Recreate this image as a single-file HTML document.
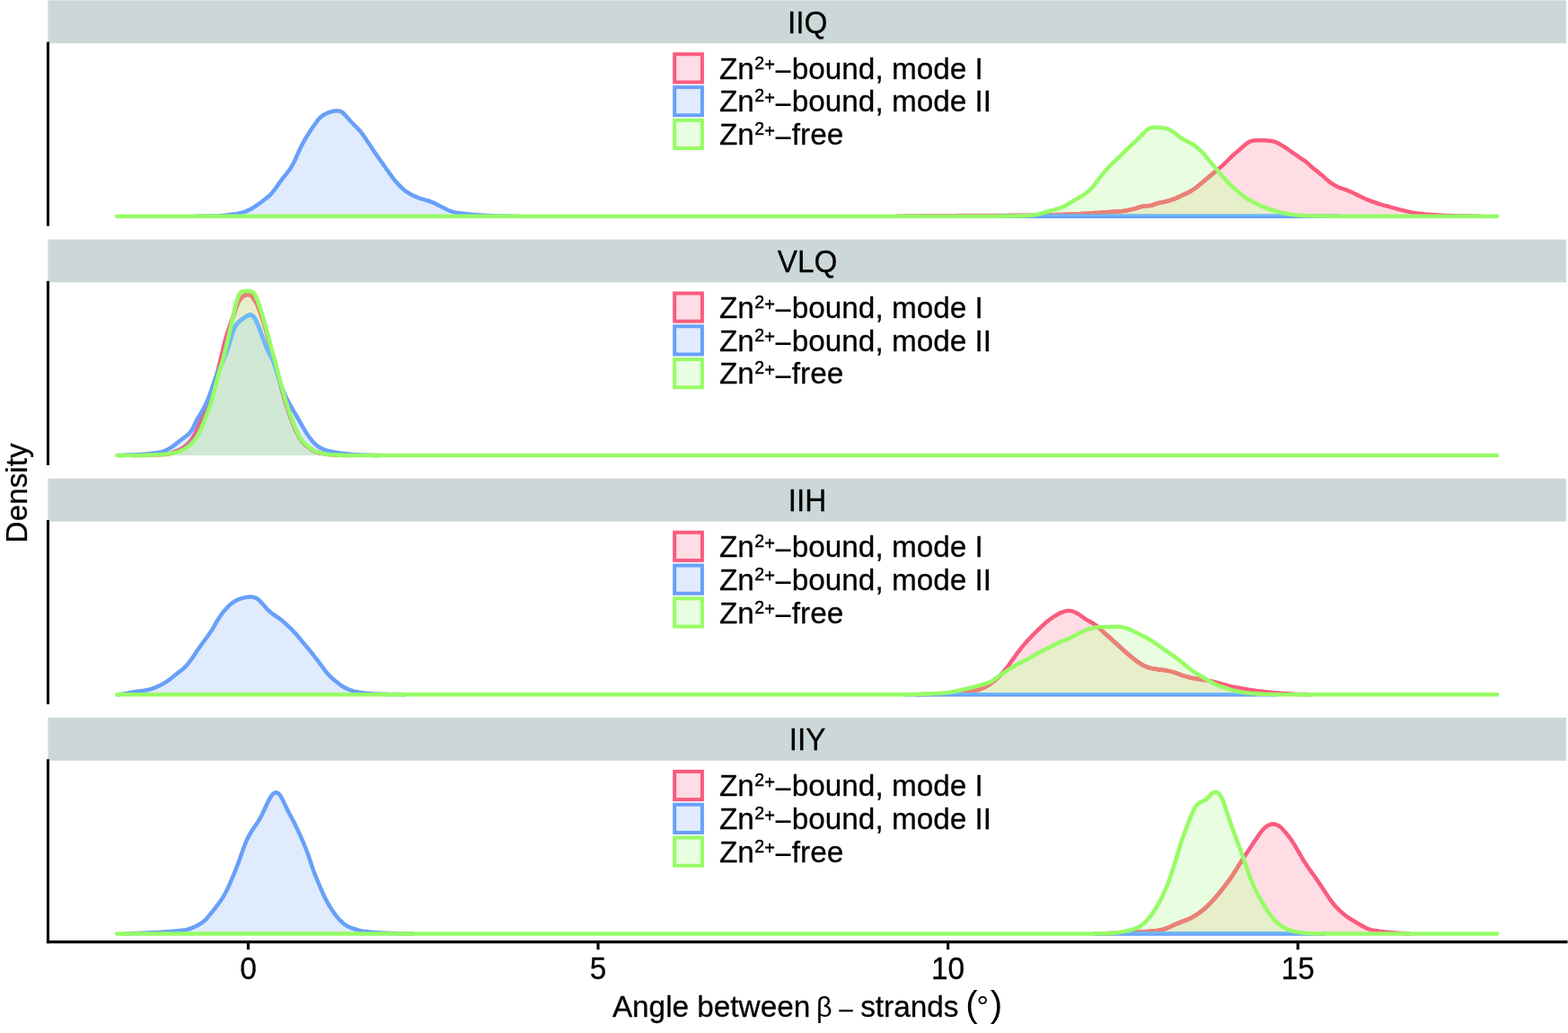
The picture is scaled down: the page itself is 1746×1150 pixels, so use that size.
<!DOCTYPE html>
<html lang="en">
<head>
<meta charset="utf-8">
<title>Angle between β-strands density</title>
<style>
html,body{margin:0;padding:0;background:#fff;}
body{width:1746px;height:1150px;overflow:hidden;}
svg{display:block;}
text{font-family:"Liberation Sans", sans-serif;fill:#000;font-size:33.3px;stroke:#000;stroke-width:0.3px;stroke-linejoin:round;}
.thin{stroke-width:0;}
.l{fill:none;stroke-width:4.5;stroke-linejoin:round;stroke-linecap:butt;}
.lg{fill:none;stroke-width:4.5;stroke-linejoin:round;stroke-linecap:round;}
.k{stroke-width:4.0;stroke-linejoin:miter;}
.ax{stroke:#000;stroke-width:3.1;stroke-linecap:square;fill:none;}
.tk{stroke:#000;stroke-width:3.1;stroke-linecap:butt;}
</style>
</head>
<body>
<svg width="1746" height="1150" viewBox="0 0 1746 1150">
<rect x="0" y="0" width="1746" height="1150" fill="#ffffff"/>

<g id="panel-IIQ">
<rect x="53.4" y="0.4" width="1690.6" height="47.8" fill="#CCD8D8"/>
<text transform="translate(899.1,36.7) scale(1,1.035)" text-anchor="middle">IIQ</text>
<defs>
<path id="f0r" d="M1000.2,240.8 L1000.2,240.8 1001.7,240.7 1003.2,240.7 1004.7,240.7 1006.2,240.6 1007.7,240.6 1009.2,240.6 1010.7,240.5 1012.2,240.5 1013.7,240.5 1015.2,240.5 1016.7,240.4 1018.2,240.4 1019.7,240.4 1021.2,240.4 1022.7,240.4 1024.2,240.4 1025.7,240.3 1027.2,240.3 1028.7,240.3 1030.2,240.3 1031.7,240.3 1033.2,240.3 1034.7,240.3 1036.2,240.3 1037.7,240.3 1039.2,240.3 1040.7,240.3 1042.2,240.3 1043.7,240.2 1045.2,240.2 1046.7,240.2 1048.2,240.2 1049.7,240.2 1051.2,240.2 1052.7,240.2 1054.2,240.2 1055.7,240.2 1057.2,240.2 1058.7,240.2 1060.2,240.2 1061.7,240.2 1063.2,240.2 1064.7,240.2 1066.2,240.2 1067.7,240.1 1069.2,240.1 1070.7,240.1 1072.2,240.1 1073.7,240.1 1075.2,240.1 1076.7,240.1 1078.2,240.1 1079.7,240.1 1081.2,240.1 1082.7,240.1 1084.2,240.1 1085.7,240.1 1087.2,240.1 1088.7,240 1090.2,240 1091.7,240 1093.2,240 1094.7,240 1096.2,240 1097.7,240 1099.2,240 1100.7,240 1102.2,240 1103.7,240 1105.2,240 1106.7,239.9 1108.2,239.9 1109.7,239.9 1111.2,239.9 1112.7,239.9 1114.2,239.9 1115.7,239.9 1117.2,239.9 1118.7,239.9 1120.2,239.9 1121.7,239.9 1123.2,239.9 1124.7,239.8 1126.2,239.8 1127.7,239.8 1129.2,239.8 1130.7,239.8 1132.2,239.8 1133.7,239.8 1135.2,239.8 1136.7,239.7 1138.2,239.7 1139.7,239.7 1141.2,239.7 1142.7,239.7 1144.2,239.7 1145.7,239.7 1147.2,239.6 1148.7,239.6 1150.2,239.6 1151.7,239.6 1153.2,239.5 1154.7,239.5 1156.2,239.5 1157.7,239.5 1159.2,239.4 1160.7,239.4 1162.2,239.4 1163.7,239.4 1165.2,239.3 1166.7,239.3 1168.2,239.3 1169.7,239.2 1171.2,239.2 1172.7,239.2 1174.2,239.2 1175.7,239.1 1177.2,239.1 1178.7,239 1180.2,239 1181.7,239 1183.2,238.9 1184.7,238.9 1186.2,238.8 1187.7,238.8 1189.2,238.8 1190.7,238.7 1192.2,238.6 1193.7,238.6 1195.2,238.5 1196.7,238.5 1198.2,238.4 1199.7,238.3 1201.2,238.2 1202.7,238.1 1204.2,238.1 1205.7,238 1207.2,237.9 1208.7,237.8 1210.2,237.7 1211.7,237.6 1213.2,237.5 1214.7,237.4 1216.2,237.3 1217.7,237.2 1219.2,237.1 1220.7,237 1222.2,236.9 1223.7,236.8 1225.2,236.7 1226.7,236.6 1228.2,236.5 1229.7,236.4 1231.2,236.3 1232.7,236.2 1234.2,236.1 1235.7,236 1237.2,235.9 1238.7,235.8 1240.2,235.7 1241.7,235.7 1243.2,235.6 1244.7,235.5 1246.2,235.4 1247.7,235.2 1249.2,235.1 1250.7,234.9 1252.2,234.7 1253.7,234.5 1255.2,234.2 1256.7,233.9 1258.2,233.5 1259.7,233.2 1261.2,232.8 1262.7,232.5 1264.2,232.1 1265.7,231.7 1267.2,231.2 1268.7,230.7 1270.2,230.3 1271.7,229.9 1273.2,229.5 1274.7,229.3 1276.2,229.2 1277.7,229.2 1279.2,229.1 1280.7,229 1282.2,228.7 1283.7,228.1 1285.2,227.6 1286.7,227 1288.2,226.5 1289.7,226.1 1291.2,225.8 1292.7,225.5 1294.2,225.2 1295.7,224.9 1297.2,224.5 1298.7,224.1 1300.2,223.8 1301.7,223.3 1303.2,222.9 1304.7,222.4 1306.2,221.9 1307.7,221.4 1309.2,220.8 1310.7,220.1 1312.2,219.4 1313.7,218.7 1315.2,218 1316.7,217.3 1318.2,216.6 1319.7,215.9 1321.2,215.2 1322.7,214.5 1324.2,213.7 1325.7,212.9 1327.2,212 1328.7,211 1330.2,210 1331.7,208.9 1333.2,207.7 1334.7,206.5 1336.2,205.3 1337.7,204.1 1339.2,202.9 1340.7,201.6 1342.2,200.3 1343.7,199 1345.2,197.7 1346.7,196.4 1348.2,195.2 1349.7,193.9 1351.2,192.7 1352.7,191.4 1354.2,190.2 1355.7,188.9 1357.2,187.6 1358.7,186.4 1360.2,185.1 1361.7,183.8 1363.2,182.4 1364.7,181 1366.2,179.5 1367.7,178 1369.2,176.5 1370.7,175 1372.2,173.6 1373.7,172.2 1375.2,170.9 1376.7,169.6 1378.2,168.3 1379.7,167.1 1381.2,165.8 1382.7,164.4 1384.2,163.1 1385.7,161.8 1387.2,160.5 1388.7,159.4 1390.2,158.4 1391.7,157.7 1393.2,157.1 1394.7,156.8 1396.2,156.5 1397.7,156.3 1399.2,156.2 1400.7,156.2 1402.2,156.2 1403.7,156.2 1405.2,156.2 1406.7,156.3 1408.2,156.3 1409.7,156.4 1411.2,156.5 1412.7,156.7 1414.2,156.8 1415.7,157 1417.2,157.3 1418.7,157.6 1420.2,158.1 1421.7,158.7 1423.2,159.4 1424.7,160.2 1426.2,161.1 1427.7,162 1429.2,162.9 1430.7,163.9 1432.2,164.9 1433.7,165.9 1435.2,167 1436.7,168 1438.2,169.1 1439.7,170.2 1441.2,171.2 1442.7,172.2 1444.2,173.2 1445.7,174.2 1447.2,175.3 1448.7,176.3 1450.2,177.3 1451.7,178.3 1453.2,179.4 1454.7,180.5 1456.2,181.8 1457.7,183.2 1459.2,184.6 1460.7,186 1462.2,187.3 1463.7,188.5 1465.2,189.6 1466.7,190.8 1468.2,192 1469.7,193.2 1471.2,194.4 1472.7,195.6 1474.2,196.9 1475.7,198.3 1477.2,199.7 1478.7,201 1480.2,202.2 1481.7,203.4 1483.2,204.4 1484.7,205.4 1486.2,206.3 1487.7,207.1 1489.2,207.9 1490.7,208.5 1492.2,209.1 1493.7,209.7 1495.2,210.2 1496.7,210.7 1498.2,211.2 1499.7,211.7 1501.2,212.3 1502.7,212.9 1504.2,213.5 1505.7,214.2 1507.2,215 1508.7,215.7 1510.2,216.4 1511.7,217.2 1513.2,217.9 1514.7,218.7 1516.2,219.4 1517.7,220.1 1519.2,220.8 1520.7,221.5 1522.2,222.1 1523.7,222.7 1525.2,223.3 1526.7,223.8 1528.2,224.4 1529.7,224.9 1531.2,225.5 1532.7,226 1534.2,226.5 1535.7,227 1537.2,227.4 1538.7,227.8 1540.2,228.3 1541.7,228.7 1543.2,229.1 1544.7,229.5 1546.2,229.9 1547.7,230.4 1549.2,230.8 1550.7,231.2 1552.2,231.6 1553.7,232 1555.2,232.4 1556.7,232.8 1558.2,233.2 1559.7,233.6 1561.2,233.9 1562.7,234.3 1564.2,234.7 1565.7,235 1567.2,235.4 1568.7,235.7 1570.2,236.1 1571.7,236.4 1573.2,236.7 1574.7,237 1576.2,237.2 1577.7,237.4 1579.2,237.6 1580.7,237.8 1582.2,238 1583.7,238.1 1585.2,238.3 1586.7,238.4 1588.2,238.6 1589.7,238.7 1591.2,238.8 1592.7,238.9 1594.2,239 1595.7,239.1 1597.2,239.2 1598.7,239.3 1600.2,239.4 1601.7,239.5 1603.2,239.6 1604.7,239.7 1606.2,239.7 1607.7,239.8 1609.2,239.9 1610.7,240 1612.2,240 1613.7,240.1 1615.2,240.1 1616.7,240.2 1618.2,240.2 1619.7,240.3 1621.2,240.3 1622.7,240.4 1624.2,240.4 1625.7,240.4 1627.2,240.5 1628.7,240.5 1630.2,240.5 1631.7,240.5 1633.2,240.6 1634.7,240.6 1636.2,240.6 1637.7,240.6 1639.2,240.6 1640.7,240.7 1642.2,240.7 1643.7,240.7 1645.2,240.7 1646.7,240.8 L1646.7,240.8Z"/>
<clipPath id="c0r"><use href="#f0r"/></clipPath>
<path id="f0b" d="M220.2,240.8 L220.2,240.8 221.7,240.7 223.2,240.7 224.7,240.7 226.2,240.7 227.7,240.7 229.2,240.6 230.7,240.6 232.2,240.6 233.7,240.6 235.2,240.6 236.7,240.5 238.2,240.5 239.7,240.5 241.2,240.4 242.7,240.4 244.2,240.3 245.7,240.2 247.2,240 248.7,239.9 250.2,239.7 251.7,239.6 253.2,239.4 254.7,239.2 256.2,239 257.7,238.8 259.2,238.6 260.7,238.4 262.2,238.2 263.7,237.9 265.2,237.6 266.7,237.3 268.2,237 269.7,236.6 271.2,236.2 272.7,235.7 274.2,235.1 275.7,234.4 277.2,233.7 278.7,233 280.2,232.2 281.7,231.3 283.2,230.4 284.7,229.4 286.2,228.4 287.7,227.4 289.2,226.3 290.7,225.2 292.2,224 293.7,222.8 295.2,221.7 296.7,220.5 298.2,219.3 299.7,218 301.2,216.6 302.7,215 304.2,213.1 305.7,211.2 307.2,209.1 308.7,207 310.2,204.9 311.7,202.8 313.2,200.7 314.7,198.7 316.2,196.8 317.7,195 319.2,193.1 320.7,191.3 322.2,189.2 323.7,186.9 325.2,184.4 326.7,181.7 328.2,178.7 329.7,175.5 331.2,172.1 332.7,168.8 334.2,165.5 335.7,162.5 337.2,159.5 338.7,156.8 340.2,154.2 341.7,151.8 343.2,149.4 344.7,147.1 346.2,144.8 347.7,142.5 349.2,140.3 350.7,138.2 352.2,136.1 353.7,134 355.2,132.2 356.7,130.7 358.2,129.5 359.7,128.4 361.2,127.5 362.7,126.7 364.2,126 365.7,125.4 367.2,124.9 368.7,124.4 370.2,124 371.7,123.7 373.2,123.4 374.7,123.3 376.2,123.4 377.7,123.6 379.2,124 380.7,124.8 382.2,125.9 383.7,127.4 385.2,129.1 386.7,130.8 388.2,132.5 389.7,134.2 391.2,135.8 392.7,137.4 394.2,139 395.7,140.4 397.2,141.9 398.7,143.4 400.2,145 401.7,146.8 403.2,148.7 404.7,150.8 406.2,153 407.7,155.3 409.2,157.5 410.7,159.7 412.2,162 413.7,164.3 415.2,166.5 416.7,168.7 418.2,170.9 419.7,173 421.2,175.1 422.7,177.2 424.2,179.4 425.7,181.5 427.2,183.6 428.7,185.7 430.2,187.9 431.7,190 433.2,192.1 434.7,194.3 436.2,196.4 437.7,198.4 439.2,200.3 440.7,202.1 442.2,203.8 443.7,205.4 445.2,206.9 446.7,208.4 448.2,209.8 449.7,211.1 451.2,212.4 452.7,213.5 454.2,214.4 455.7,215.3 457.2,216.2 458.7,217 460.2,217.7 461.7,218.4 463.2,219.1 464.7,219.7 466.2,220.3 467.7,220.8 469.2,221.3 470.7,221.7 472.2,222.1 473.7,222.6 475.2,223 476.7,223.5 478.2,224 479.7,224.5 481.2,225.1 482.7,225.7 484.2,226.4 485.7,227.1 487.2,227.9 488.7,228.7 490.2,229.5 491.7,230.2 493.2,231 494.7,231.8 496.2,232.6 497.7,233.3 499.2,234 500.7,234.6 502.2,235.1 503.7,235.6 505.2,236.1 506.7,236.4 508.2,236.8 509.7,237 511.2,237.2 512.7,237.4 514.2,237.6 515.7,237.8 517.2,238 518.7,238.1 520.2,238.2 521.7,238.4 523.2,238.5 524.7,238.7 526.2,238.8 527.7,238.9 529.2,239 530.7,239.2 532.2,239.3 533.7,239.4 535.2,239.5 536.7,239.6 538.2,239.7 539.7,239.8 541.2,239.9 542.7,240 544.2,240 545.7,240.1 547.2,240.2 548.7,240.2 550.2,240.3 551.7,240.4 553.2,240.4 554.7,240.5 556.2,240.5 557.7,240.5 559.2,240.6 560.7,240.6 562.2,240.6 563.7,240.6 565.2,240.7 566.7,240.7 568.2,240.7 569.7,240.7 571.2,240.7 572.7,240.7 574.2,240.8 L574.2,240.8Z"/>
<clipPath id="c0b"><use href="#f0b"/></clipPath>
<path id="f0g" d="M1112.7,240.8 L1112.7,240.8 1114.2,240.7 1115.7,240.7 1117.2,240.7 1118.7,240.7 1120.2,240.6 1121.7,240.6 1123.2,240.6 1124.7,240.6 1126.2,240.5 1127.7,240.5 1129.2,240.5 1130.7,240.4 1132.2,240.4 1133.7,240.4 1135.2,240.3 1136.7,240.3 1138.2,240.3 1139.7,240.2 1141.2,240.2 1142.7,240.1 1144.2,240 1145.7,239.9 1147.2,239.8 1148.7,239.7 1150.2,239.5 1151.7,239.4 1153.2,239.1 1154.7,238.8 1156.2,238.5 1157.7,238 1159.2,237.6 1160.7,237.2 1162.2,236.7 1163.7,236.3 1165.2,235.9 1166.7,235.5 1168.2,235 1169.7,234.6 1171.2,234.2 1172.7,233.8 1174.2,233.4 1175.7,233 1177.2,232.6 1178.7,232.2 1180.2,231.7 1181.7,231.1 1183.2,230.5 1184.7,229.8 1186.2,229 1187.7,228.1 1189.2,227.3 1190.7,226.4 1192.2,225.5 1193.7,224.6 1195.2,223.6 1196.7,222.7 1198.2,221.8 1199.7,221 1201.2,220.1 1202.7,219.3 1204.2,218.5 1205.7,217.5 1207.2,216.6 1208.7,215.5 1210.2,214.3 1211.7,213.1 1213.2,211.7 1214.7,210.3 1216.2,208.6 1217.7,206.8 1219.2,204.9 1220.7,203 1222.2,201 1223.7,199.1 1225.2,197.2 1226.7,195.3 1228.2,193.4 1229.7,191.6 1231.2,189.8 1232.7,188.1 1234.2,186.5 1235.7,184.9 1237.2,183.3 1238.7,181.9 1240.2,180.4 1241.7,179 1243.2,177.6 1244.7,176.2 1246.2,174.8 1247.7,173.4 1249.2,171.9 1250.7,170.4 1252.2,168.9 1253.7,167.4 1255.2,165.9 1256.7,164.5 1258.2,163.1 1259.7,161.7 1261.2,160.3 1262.7,159 1264.2,157.5 1265.7,156.1 1267.2,154.6 1268.7,153.1 1270.2,151.6 1271.7,150.1 1273.2,148.5 1274.7,147 1276.2,145.5 1277.7,144.3 1279.2,143.3 1280.7,142.7 1282.2,142.2 1283.7,142 1285.2,141.8 1286.7,141.8 1288.2,141.8 1289.7,141.8 1291.2,141.9 1292.7,142.1 1294.2,142.2 1295.7,142.5 1297.2,142.7 1298.7,143.1 1300.2,143.6 1301.7,144.2 1303.2,144.9 1304.7,145.8 1306.2,146.8 1307.7,147.9 1309.2,149.1 1310.7,150.3 1312.2,151.5 1313.7,152.6 1315.2,153.6 1316.7,154.6 1318.2,155.5 1319.7,156.3 1321.2,157.1 1322.7,157.9 1324.2,158.6 1325.7,159.3 1327.2,160.1 1328.7,161 1330.2,162.1 1331.7,163.2 1333.2,164.5 1334.7,165.8 1336.2,167.2 1337.7,168.7 1339.2,170.2 1340.7,171.8 1342.2,173.4 1343.7,175.2 1345.2,177 1346.7,178.8 1348.2,180.7 1349.7,182.5 1351.2,184.3 1352.7,186.1 1354.2,187.9 1355.7,189.7 1357.2,191.5 1358.7,193.3 1360.2,195.1 1361.7,196.8 1363.2,198.5 1364.7,200.1 1366.2,201.8 1367.7,203.3 1369.2,204.8 1370.7,206.3 1372.2,207.7 1373.7,209 1375.2,210.4 1376.7,211.7 1378.2,213 1379.7,214.3 1381.2,215.5 1382.7,216.7 1384.2,217.9 1385.7,219 1387.2,220.1 1388.7,221.1 1390.2,222.1 1391.7,223 1393.2,223.8 1394.7,224.6 1396.2,225.4 1397.7,226.1 1399.2,226.8 1400.7,227.5 1402.2,228.2 1403.7,228.9 1405.2,229.6 1406.7,230.2 1408.2,230.9 1409.7,231.5 1411.2,232 1412.7,232.5 1414.2,233 1415.7,233.5 1417.2,234 1418.7,234.4 1420.2,234.8 1421.7,235.3 1423.2,235.7 1424.7,236.1 1426.2,236.5 1427.7,236.8 1429.2,237.2 1430.7,237.5 1432.2,237.8 1433.7,238.1 1435.2,238.3 1436.7,238.5 1438.2,238.7 1439.7,238.9 1441.2,239.1 1442.7,239.3 1444.2,239.4 1445.7,239.6 1447.2,239.7 1448.7,239.8 1450.2,239.9 1451.7,240 1453.2,240.1 1454.7,240.2 1456.2,240.2 1457.7,240.3 1459.2,240.3 1460.7,240.4 1462.2,240.4 1463.7,240.5 1465.2,240.5 1466.7,240.5 1468.2,240.5 1469.7,240.6 1471.2,240.6 1472.7,240.6 1474.2,240.6 1475.7,240.6 1477.2,240.7 1478.7,240.7 1480.2,240.7 1481.7,240.7 1483.2,240.7 1484.7,240.7 1486.2,240.7 1487.7,240.7 1489.2,240.8 L1489.2,240.8Z"/>
<clipPath id="c0g"><use href="#f0g"/></clipPath>
<path id="l0r" d="M997.2,240.8 L1000.2,240.8 L1001.7,240.7 L1003.2,240.7 L1004.7,240.7 L1006.2,240.6 L1007.7,240.6 L1009.2,240.6 L1010.7,240.5 L1012.2,240.5 L1013.7,240.5 L1015.2,240.5 L1016.7,240.4 L1018.2,240.4 L1019.7,240.4 L1021.2,240.4 L1022.7,240.4 L1024.2,240.4 L1025.7,240.3 L1027.2,240.3 L1028.7,240.3 L1030.2,240.3 L1031.7,240.3 L1033.2,240.3 L1034.7,240.3 L1036.2,240.3 L1037.7,240.3 L1039.2,240.3 L1040.7,240.3 L1042.2,240.3 L1043.7,240.2 L1045.2,240.2 L1046.7,240.2 L1048.2,240.2 L1049.7,240.2 L1051.2,240.2 L1052.7,240.2 L1054.2,240.2 L1055.7,240.2 L1057.2,240.2 L1058.7,240.2 L1060.2,240.2 L1061.7,240.2 L1063.2,240.2 L1064.7,240.2 L1066.2,240.2 L1067.7,240.1 L1069.2,240.1 L1070.7,240.1 L1072.2,240.1 L1073.7,240.1 L1075.2,240.1 L1076.7,240.1 L1078.2,240.1 L1079.7,240.1 L1081.2,240.1 L1082.7,240.1 L1084.2,240.1 L1085.7,240.1 L1087.2,240.1 L1088.7,240 L1090.2,240 L1091.7,240 L1093.2,240 L1094.7,240 L1096.2,240 L1097.7,240 L1099.2,240 L1100.7,240 L1102.2,240 L1103.7,240 L1105.2,240 L1106.7,239.9 L1108.2,239.9 L1109.7,239.9 L1111.2,239.9 L1112.7,239.9 L1114.2,239.9 L1115.7,239.9 L1117.2,239.9 L1118.7,239.9 L1120.2,239.9 L1121.7,239.9 L1123.2,239.9 L1124.7,239.8 L1126.2,239.8 L1127.7,239.8 L1129.2,239.8 L1130.7,239.8 L1132.2,239.8 L1133.7,239.8 L1135.2,239.8 L1136.7,239.7 L1138.2,239.7 L1139.7,239.7 L1141.2,239.7 L1142.7,239.7 L1144.2,239.7 L1145.7,239.7 L1147.2,239.6 L1148.7,239.6 L1150.2,239.6 L1151.7,239.6 L1153.2,239.5 L1154.7,239.5 L1156.2,239.5 L1157.7,239.5 L1159.2,239.4 L1160.7,239.4 L1162.2,239.4 L1163.7,239.4 L1165.2,239.3 L1166.7,239.3 L1168.2,239.3 L1169.7,239.2 L1171.2,239.2 L1172.7,239.2 L1174.2,239.2 L1175.7,239.1 L1177.2,239.1 L1178.7,239 L1180.2,239 L1181.7,239 L1183.2,238.9 L1184.7,238.9 L1186.2,238.8 L1187.7,238.8 L1189.2,238.8 L1190.7,238.7 L1192.2,238.6 L1193.7,238.6 L1195.2,238.5 L1196.7,238.5 L1198.2,238.4 L1199.7,238.3 L1201.2,238.2 L1202.7,238.1 L1204.2,238.1 L1205.7,238 L1207.2,237.9 L1208.7,237.8 L1210.2,237.7 L1211.7,237.6 L1213.2,237.5 L1214.7,237.4 L1216.2,237.3 L1217.7,237.2 L1219.2,237.1 L1220.7,237 L1222.2,236.9 L1223.7,236.8 L1225.2,236.7 L1226.7,236.6 L1228.2,236.5 L1229.7,236.4 L1231.2,236.3 L1232.7,236.2 L1234.2,236.1 L1235.7,236 L1237.2,235.9 L1238.7,235.8 L1240.2,235.7 L1241.7,235.7 L1243.2,235.6 L1244.7,235.5 L1246.2,235.4 L1247.7,235.2 L1249.2,235.1 L1250.7,234.9 L1252.2,234.7 L1253.7,234.5 L1255.2,234.2 L1256.7,233.9 L1258.2,233.5 L1259.7,233.2 L1261.2,232.8 L1262.7,232.5 L1264.2,232.1 L1265.7,231.7 L1267.2,231.2 L1268.7,230.7 L1270.2,230.3 L1271.7,229.9 L1273.2,229.5 L1274.7,229.3 L1276.2,229.2 L1277.7,229.2 L1279.2,229.1 L1280.7,229 L1282.2,228.7 L1283.7,228.1 L1285.2,227.6 L1286.7,227 L1288.2,226.5 L1289.7,226.1 L1291.2,225.8 L1292.7,225.5 L1294.2,225.2 L1295.7,224.9 L1297.2,224.5 L1298.7,224.1 L1300.2,223.8 L1301.7,223.3 L1303.2,222.9 L1304.7,222.4 L1306.2,221.9 L1307.7,221.4 L1309.2,220.8 L1310.7,220.1 L1312.2,219.4 L1313.7,218.7 L1315.2,218 L1316.7,217.3 L1318.2,216.6 L1319.7,215.9 L1321.2,215.2 L1322.7,214.5 L1324.2,213.7 L1325.7,212.9 L1327.2,212 L1328.7,211 L1330.2,210 L1331.7,208.9 L1333.2,207.7 L1334.7,206.5 L1336.2,205.3 L1337.7,204.1 L1339.2,202.9 L1340.7,201.6 L1342.2,200.3 L1343.7,199 L1345.2,197.7 L1346.7,196.4 L1348.2,195.2 L1349.7,193.9 L1351.2,192.7 L1352.7,191.4 L1354.2,190.2 L1355.7,188.9 L1357.2,187.6 L1358.7,186.4 L1360.2,185.1 L1361.7,183.8 L1363.2,182.4 L1364.7,181 L1366.2,179.5 L1367.7,178 L1369.2,176.5 L1370.7,175 L1372.2,173.6 L1373.7,172.2 L1375.2,170.9 L1376.7,169.6 L1378.2,168.3 L1379.7,167.1 L1381.2,165.8 L1382.7,164.4 L1384.2,163.1 L1385.7,161.8 L1387.2,160.5 L1388.7,159.4 L1390.2,158.4 L1391.7,157.7 L1393.2,157.1 L1394.7,156.8 L1396.2,156.5 L1397.7,156.3 L1399.2,156.2 L1400.7,156.2 L1402.2,156.2 L1403.7,156.2 L1405.2,156.2 L1406.7,156.3 L1408.2,156.3 L1409.7,156.4 L1411.2,156.5 L1412.7,156.7 L1414.2,156.8 L1415.7,157 L1417.2,157.3 L1418.7,157.6 L1420.2,158.1 L1421.7,158.7 L1423.2,159.4 L1424.7,160.2 L1426.2,161.1 L1427.7,162 L1429.2,162.9 L1430.7,163.9 L1432.2,164.9 L1433.7,165.9 L1435.2,167 L1436.7,168 L1438.2,169.1 L1439.7,170.2 L1441.2,171.2 L1442.7,172.2 L1444.2,173.2 L1445.7,174.2 L1447.2,175.3 L1448.7,176.3 L1450.2,177.3 L1451.7,178.3 L1453.2,179.4 L1454.7,180.5 L1456.2,181.8 L1457.7,183.2 L1459.2,184.6 L1460.7,186 L1462.2,187.3 L1463.7,188.5 L1465.2,189.6 L1466.7,190.8 L1468.2,192 L1469.7,193.2 L1471.2,194.4 L1472.7,195.6 L1474.2,196.9 L1475.7,198.3 L1477.2,199.7 L1478.7,201 L1480.2,202.2 L1481.7,203.4 L1483.2,204.4 L1484.7,205.4 L1486.2,206.3 L1487.7,207.1 L1489.2,207.9 L1490.7,208.5 L1492.2,209.1 L1493.7,209.7 L1495.2,210.2 L1496.7,210.7 L1498.2,211.2 L1499.7,211.7 L1501.2,212.3 L1502.7,212.9 L1504.2,213.5 L1505.7,214.2 L1507.2,215 L1508.7,215.7 L1510.2,216.4 L1511.7,217.2 L1513.2,217.9 L1514.7,218.7 L1516.2,219.4 L1517.7,220.1 L1519.2,220.8 L1520.7,221.5 L1522.2,222.1 L1523.7,222.7 L1525.2,223.3 L1526.7,223.8 L1528.2,224.4 L1529.7,224.9 L1531.2,225.5 L1532.7,226 L1534.2,226.5 L1535.7,227 L1537.2,227.4 L1538.7,227.8 L1540.2,228.3 L1541.7,228.7 L1543.2,229.1 L1544.7,229.5 L1546.2,229.9 L1547.7,230.4 L1549.2,230.8 L1550.7,231.2 L1552.2,231.6 L1553.7,232 L1555.2,232.4 L1556.7,232.8 L1558.2,233.2 L1559.7,233.6 L1561.2,233.9 L1562.7,234.3 L1564.2,234.7 L1565.7,235 L1567.2,235.4 L1568.7,235.7 L1570.2,236.1 L1571.7,236.4 L1573.2,236.7 L1574.7,237 L1576.2,237.2 L1577.7,237.4 L1579.2,237.6 L1580.7,237.8 L1582.2,238 L1583.7,238.1 L1585.2,238.3 L1586.7,238.4 L1588.2,238.6 L1589.7,238.7 L1591.2,238.8 L1592.7,238.9 L1594.2,239 L1595.7,239.1 L1597.2,239.2 L1598.7,239.3 L1600.2,239.4 L1601.7,239.5 L1603.2,239.6 L1604.7,239.7 L1606.2,239.7 L1607.7,239.8 L1609.2,239.9 L1610.7,240 L1612.2,240 L1613.7,240.1 L1615.2,240.1 L1616.7,240.2 L1618.2,240.2 L1619.7,240.3 L1621.2,240.3 L1622.7,240.4 L1624.2,240.4 L1625.7,240.4 L1627.2,240.5 L1628.7,240.5 L1630.2,240.5 L1631.7,240.5 L1633.2,240.6 L1634.7,240.6 L1636.2,240.6 L1637.7,240.6 L1639.2,240.6 L1640.7,240.7 L1642.2,240.7 L1643.7,240.7 L1645.2,240.7 L1646.7,240.8 L1649.7,240.8"/>
<path id="l0b" d="M217.2,240.8 L220.2,240.8 L221.7,240.7 L223.2,240.7 L224.7,240.7 L226.2,240.7 L227.7,240.7 L229.2,240.6 L230.7,240.6 L232.2,240.6 L233.7,240.6 L235.2,240.6 L236.7,240.5 L238.2,240.5 L239.7,240.5 L241.2,240.4 L242.7,240.4 L244.2,240.3 L245.7,240.2 L247.2,240 L248.7,239.9 L250.2,239.7 L251.7,239.6 L253.2,239.4 L254.7,239.2 L256.2,239 L257.7,238.8 L259.2,238.6 L260.7,238.4 L262.2,238.2 L263.7,237.9 L265.2,237.6 L266.7,237.3 L268.2,237 L269.7,236.6 L271.2,236.2 L272.7,235.7 L274.2,235.1 L275.7,234.4 L277.2,233.7 L278.7,233 L280.2,232.2 L281.7,231.3 L283.2,230.4 L284.7,229.4 L286.2,228.4 L287.7,227.4 L289.2,226.3 L290.7,225.2 L292.2,224 L293.7,222.8 L295.2,221.7 L296.7,220.5 L298.2,219.3 L299.7,218 L301.2,216.6 L302.7,215 L304.2,213.1 L305.7,211.2 L307.2,209.1 L308.7,207 L310.2,204.9 L311.7,202.8 L313.2,200.7 L314.7,198.7 L316.2,196.8 L317.7,195 L319.2,193.1 L320.7,191.3 L322.2,189.2 L323.7,186.9 L325.2,184.4 L326.7,181.7 L328.2,178.7 L329.7,175.5 L331.2,172.1 L332.7,168.8 L334.2,165.5 L335.7,162.5 L337.2,159.5 L338.7,156.8 L340.2,154.2 L341.7,151.8 L343.2,149.4 L344.7,147.1 L346.2,144.8 L347.7,142.5 L349.2,140.3 L350.7,138.2 L352.2,136.1 L353.7,134 L355.2,132.2 L356.7,130.7 L358.2,129.5 L359.7,128.4 L361.2,127.5 L362.7,126.7 L364.2,126 L365.7,125.4 L367.2,124.9 L368.7,124.4 L370.2,124 L371.7,123.7 L373.2,123.4 L374.7,123.3 L376.2,123.4 L377.7,123.6 L379.2,124 L380.7,124.8 L382.2,125.9 L383.7,127.4 L385.2,129.1 L386.7,130.8 L388.2,132.5 L389.7,134.2 L391.2,135.8 L392.7,137.4 L394.2,139 L395.7,140.4 L397.2,141.9 L398.7,143.4 L400.2,145 L401.7,146.8 L403.2,148.7 L404.7,150.8 L406.2,153 L407.7,155.3 L409.2,157.5 L410.7,159.7 L412.2,162 L413.7,164.3 L415.2,166.5 L416.7,168.7 L418.2,170.9 L419.7,173 L421.2,175.1 L422.7,177.2 L424.2,179.4 L425.7,181.5 L427.2,183.6 L428.7,185.7 L430.2,187.9 L431.7,190 L433.2,192.1 L434.7,194.3 L436.2,196.4 L437.7,198.4 L439.2,200.3 L440.7,202.1 L442.2,203.8 L443.7,205.4 L445.2,206.9 L446.7,208.4 L448.2,209.8 L449.7,211.1 L451.2,212.4 L452.7,213.5 L454.2,214.4 L455.7,215.3 L457.2,216.2 L458.7,217 L460.2,217.7 L461.7,218.4 L463.2,219.1 L464.7,219.7 L466.2,220.3 L467.7,220.8 L469.2,221.3 L470.7,221.7 L472.2,222.1 L473.7,222.6 L475.2,223 L476.7,223.5 L478.2,224 L479.7,224.5 L481.2,225.1 L482.7,225.7 L484.2,226.4 L485.7,227.1 L487.2,227.9 L488.7,228.7 L490.2,229.5 L491.7,230.2 L493.2,231 L494.7,231.8 L496.2,232.6 L497.7,233.3 L499.2,234 L500.7,234.6 L502.2,235.1 L503.7,235.6 L505.2,236.1 L506.7,236.4 L508.2,236.8 L509.7,237 L511.2,237.2 L512.7,237.4 L514.2,237.6 L515.7,237.8 L517.2,238 L518.7,238.1 L520.2,238.2 L521.7,238.4 L523.2,238.5 L524.7,238.7 L526.2,238.8 L527.7,238.9 L529.2,239 L530.7,239.2 L532.2,239.3 L533.7,239.4 L535.2,239.5 L536.7,239.6 L538.2,239.7 L539.7,239.8 L541.2,239.9 L542.7,240 L544.2,240 L545.7,240.1 L547.2,240.2 L548.7,240.2 L550.2,240.3 L551.7,240.4 L553.2,240.4 L554.7,240.5 L556.2,240.5 L557.7,240.5 L559.2,240.6 L560.7,240.6 L562.2,240.6 L563.7,240.6 L565.2,240.7 L566.7,240.7 L568.2,240.7 L569.7,240.7 L571.2,240.7 L572.7,240.7 L574.2,240.8 L577.2,240.8 M1109.7,240.8 L1492.2,240.8"/>
<path id="l0g" d="M130.2,240.8 L1112.7,240.8 L1114.2,240.7 L1115.7,240.7 L1117.2,240.7 L1118.7,240.7 L1120.2,240.6 L1121.7,240.6 L1123.2,240.6 L1124.7,240.6 L1126.2,240.5 L1127.7,240.5 L1129.2,240.5 L1130.7,240.4 L1132.2,240.4 L1133.7,240.4 L1135.2,240.3 L1136.7,240.3 L1138.2,240.3 L1139.7,240.2 L1141.2,240.2 L1142.7,240.1 L1144.2,240 L1145.7,239.9 L1147.2,239.8 L1148.7,239.7 L1150.2,239.5 L1151.7,239.4 L1153.2,239.1 L1154.7,238.8 L1156.2,238.5 L1157.7,238 L1159.2,237.6 L1160.7,237.2 L1162.2,236.7 L1163.7,236.3 L1165.2,235.9 L1166.7,235.5 L1168.2,235 L1169.7,234.6 L1171.2,234.2 L1172.7,233.8 L1174.2,233.4 L1175.7,233 L1177.2,232.6 L1178.7,232.2 L1180.2,231.7 L1181.7,231.1 L1183.2,230.5 L1184.7,229.8 L1186.2,229 L1187.7,228.1 L1189.2,227.3 L1190.7,226.4 L1192.2,225.5 L1193.7,224.6 L1195.2,223.6 L1196.7,222.7 L1198.2,221.8 L1199.7,221 L1201.2,220.1 L1202.7,219.3 L1204.2,218.5 L1205.7,217.5 L1207.2,216.6 L1208.7,215.5 L1210.2,214.3 L1211.7,213.1 L1213.2,211.7 L1214.7,210.3 L1216.2,208.6 L1217.7,206.8 L1219.2,204.9 L1220.7,203 L1222.2,201 L1223.7,199.1 L1225.2,197.2 L1226.7,195.3 L1228.2,193.4 L1229.7,191.6 L1231.2,189.8 L1232.7,188.1 L1234.2,186.5 L1235.7,184.9 L1237.2,183.3 L1238.7,181.9 L1240.2,180.4 L1241.7,179 L1243.2,177.6 L1244.7,176.2 L1246.2,174.8 L1247.7,173.4 L1249.2,171.9 L1250.7,170.4 L1252.2,168.9 L1253.7,167.4 L1255.2,165.9 L1256.7,164.5 L1258.2,163.1 L1259.7,161.7 L1261.2,160.3 L1262.7,159 L1264.2,157.5 L1265.7,156.1 L1267.2,154.6 L1268.7,153.1 L1270.2,151.6 L1271.7,150.1 L1273.2,148.5 L1274.7,147 L1276.2,145.5 L1277.7,144.3 L1279.2,143.3 L1280.7,142.7 L1282.2,142.2 L1283.7,142 L1285.2,141.8 L1286.7,141.8 L1288.2,141.8 L1289.7,141.8 L1291.2,141.9 L1292.7,142.1 L1294.2,142.2 L1295.7,142.5 L1297.2,142.7 L1298.7,143.1 L1300.2,143.6 L1301.7,144.2 L1303.2,144.9 L1304.7,145.8 L1306.2,146.8 L1307.7,147.9 L1309.2,149.1 L1310.7,150.3 L1312.2,151.5 L1313.7,152.6 L1315.2,153.6 L1316.7,154.6 L1318.2,155.5 L1319.7,156.3 L1321.2,157.1 L1322.7,157.9 L1324.2,158.6 L1325.7,159.3 L1327.2,160.1 L1328.7,161 L1330.2,162.1 L1331.7,163.2 L1333.2,164.5 L1334.7,165.8 L1336.2,167.2 L1337.7,168.7 L1339.2,170.2 L1340.7,171.8 L1342.2,173.4 L1343.7,175.2 L1345.2,177 L1346.7,178.8 L1348.2,180.7 L1349.7,182.5 L1351.2,184.3 L1352.7,186.1 L1354.2,187.9 L1355.7,189.7 L1357.2,191.5 L1358.7,193.3 L1360.2,195.1 L1361.7,196.8 L1363.2,198.5 L1364.7,200.1 L1366.2,201.8 L1367.7,203.3 L1369.2,204.8 L1370.7,206.3 L1372.2,207.7 L1373.7,209 L1375.2,210.4 L1376.7,211.7 L1378.2,213 L1379.7,214.3 L1381.2,215.5 L1382.7,216.7 L1384.2,217.9 L1385.7,219 L1387.2,220.1 L1388.7,221.1 L1390.2,222.1 L1391.7,223 L1393.2,223.8 L1394.7,224.6 L1396.2,225.4 L1397.7,226.1 L1399.2,226.8 L1400.7,227.5 L1402.2,228.2 L1403.7,228.9 L1405.2,229.6 L1406.7,230.2 L1408.2,230.9 L1409.7,231.5 L1411.2,232 L1412.7,232.5 L1414.2,233 L1415.7,233.5 L1417.2,234 L1418.7,234.4 L1420.2,234.8 L1421.7,235.3 L1423.2,235.7 L1424.7,236.1 L1426.2,236.5 L1427.7,236.8 L1429.2,237.2 L1430.7,237.5 L1432.2,237.8 L1433.7,238.1 L1435.2,238.3 L1436.7,238.5 L1438.2,238.7 L1439.7,238.9 L1441.2,239.1 L1442.7,239.3 L1444.2,239.4 L1445.7,239.6 L1447.2,239.7 L1448.7,239.8 L1450.2,239.9 L1451.7,240 L1453.2,240.1 L1454.7,240.2 L1456.2,240.2 L1457.7,240.3 L1459.2,240.3 L1460.7,240.4 L1462.2,240.4 L1463.7,240.5 L1465.2,240.5 L1466.7,240.5 L1468.2,240.5 L1469.7,240.6 L1471.2,240.6 L1472.7,240.6 L1474.2,240.6 L1475.7,240.6 L1477.2,240.7 L1478.7,240.7 L1480.2,240.7 L1481.7,240.7 L1483.2,240.7 L1484.7,240.7 L1486.2,240.7 L1487.7,240.7 L1489.2,240.8 L1667.2,240.8"/>
</defs>
<use href="#f0r" fill="#FEDDE4"/>
<use href="#f0b" fill="#E0EBFE"/>
<use href="#f0g" fill="#E9FEE0"/>
<use href="#f0b" fill="#E2D0EA" clip-path="url(#c0r)"/>
<use href="#f0g" fill="#E6EECA" clip-path="url(#c0r)"/>
<use href="#f0g" fill="#D0F0E2" clip-path="url(#c0b)"/>
<g clip-path="url(#c0r)"><use href="#f0g" fill="#CEE8D4" clip-path="url(#c0b)"/></g>
<use class="l" href="#l0r" stroke="#FA5B7E"/>
<use class="l" href="#l0r" stroke="#DE6896" clip-path="url(#c0b)"/>
<use class="l" href="#l0r" stroke="#E88274" clip-path="url(#c0g)"/>
<g clip-path="url(#c0b)"><use class="l" href="#l0r" stroke="#D0888C" clip-path="url(#c0g)"/></g>
<use class="l" href="#l0b" stroke="#68A0F8"/>
<use class="l" href="#l0b" stroke="#6EBAF8" clip-path="url(#c0g)"/>
<use class="lg" href="#l0g" stroke="#96FC65"/>
<rect class="k" x="751.15" y="60.3" width="30.75" height="31.2" fill="#FEDDE4" stroke="#FA5B7E"/>
<text y="87.7"><tspan x="801">Zn</tspan><tspan x="840.2" y="76.7" font-size="19.5" stroke-width="0.5">2</tspan><tspan x="851.3" y="79.3" font-size="20" stroke-width="0.5">+</tspan><tspan x="862.3" y="91.1" font-size="34">−</tspan><tspan x="881.8" y="87.7">bound, mode I</tspan></text>
<rect class="k" x="751.15" y="97.1" width="30.75" height="31.2" fill="#E0EBFE" stroke="#68A0F8"/>
<text y="124.45"><tspan x="801">Zn</tspan><tspan x="840.2" y="113.45" font-size="19.5" stroke-width="0.5">2</tspan><tspan x="851.3" y="116.05" font-size="20" stroke-width="0.5">+</tspan><tspan x="862.3" y="127.85" font-size="34">−</tspan><tspan x="881.8" y="124.45">bound, mode II</tspan></text>
<rect class="k" x="751.15" y="133.9" width="30.75" height="31.2" fill="#E9FEE0" stroke="#96FC65"/>
<text y="161.2"><tspan x="801">Zn</tspan><tspan x="840.2" y="150.2" font-size="19.5" stroke-width="0.5">2</tspan><tspan x="851.3" y="152.8" font-size="20" stroke-width="0.5">+</tspan><tspan x="862.3" y="164.6" font-size="34">−</tspan><tspan x="881.8" y="161.2">free</tspan></text>
<line class="ax" x1="53.449999999999996" y1="48.2" x2="53.449999999999996" y2="250.1"/>
</g>
<g id="panel-VLQ">
<rect x="53.4" y="266.6" width="1690.6" height="47.8" fill="#CCD8D8"/>
<text transform="translate(899.1,302.9) scale(1,1.035)" text-anchor="middle">VLQ</text>
<defs>
<path id="f1r" d="M155.7,507 L155.7,507 157.2,506.9 158.7,506.9 160.2,506.9 161.7,506.8 163.2,506.8 164.7,506.8 166.2,506.7 167.7,506.7 169.2,506.6 170.7,506.6 172.2,506.5 173.7,506.4 175.2,506.4 176.7,506.3 178.2,506.3 179.7,506.2 181.2,506.1 182.7,506 184.2,505.9 185.7,505.8 187.2,505.6 188.7,505.3 190.2,504.9 191.7,504.3 193.2,503.6 194.7,503 196.2,502.5 197.7,501.9 199.2,501.3 200.7,500.6 202.2,499.7 203.7,498.7 205.2,497.7 206.7,496.5 208.2,495.2 209.7,493.8 211.2,492.2 212.7,490.3 214.2,488.2 215.7,485.8 217.2,483 218.7,479.8 220.2,476.2 221.7,472.5 223.2,468.8 224.7,465.3 226.2,461.8 227.7,458.5 229.2,455.1 230.7,451.5 232.2,447.7 233.7,443.6 235.2,439 236.7,434 238.2,428.7 239.7,423.3 241.2,417.7 242.7,412 244.2,406.1 245.7,399.9 247.2,393.4 248.7,386.8 250.2,380.8 251.7,375.4 253.2,370.7 254.7,366.2 256.2,361.9 257.7,357.5 259.2,353.2 260.7,348.9 262.2,344.6 263.7,340.3 265.2,336.7 266.7,334 268.2,332.2 269.7,330.8 271.2,329.6 272.7,328.7 274.2,328.1 275.7,327.9 277.2,327.9 278.7,328.4 280.2,329.5 281.7,331.4 283.2,333.9 284.7,336 286.2,338.6 287.7,342.3 289.2,346.2 290.7,350.4 292.2,354.9 293.7,359.6 295.2,364.3 296.7,369.1 298.2,374.5 299.7,380.3 301.2,386.1 302.7,391.6 304.2,396.8 305.7,402.1 307.2,407.9 308.7,413.8 310.2,419.6 311.7,425.3 313.2,430.8 314.7,436.2 316.2,441.4 317.7,446.4 319.2,451.3 320.7,456 322.2,460.4 323.7,464.6 325.2,468.7 326.7,472.5 328.2,476.1 329.7,479.5 331.2,482.6 332.7,485.4 334.2,487.9 335.7,490.1 337.2,492.1 338.7,493.8 340.2,495.3 341.7,496.6 343.2,497.8 344.7,498.9 346.2,500 347.7,500.9 349.2,501.7 350.7,502.4 352.2,503 353.7,503.5 355.2,504 356.7,504.4 358.2,504.7 359.7,505 361.2,505.3 362.7,505.6 364.2,505.8 365.7,506 367.2,506.1 368.7,506.2 370.2,506.3 371.7,506.4 373.2,506.5 374.7,506.6 376.2,506.7 377.7,506.7 379.2,506.8 380.7,506.8 382.2,506.9 383.7,506.9 385.2,507 386.7,507 L386.7,507Z"/>
<clipPath id="c1r"><use href="#f1r"/></clipPath>
<path id="f1b" d="M134.7,507 L134.7,507 136.2,506.9 137.7,506.8 139.2,506.7 140.7,506.6 142.2,506.6 143.7,506.5 145.2,506.5 146.7,506.4 148.2,506.3 149.7,506.3 151.2,506.2 152.7,506.1 154.2,506 155.7,505.9 157.2,505.8 158.7,505.7 160.2,505.6 161.7,505.5 163.2,505.4 164.7,505.3 166.2,505.1 167.7,505 169.2,504.8 170.7,504.6 172.2,504.5 173.7,504.2 175.2,504 176.7,503.7 178.2,503.4 179.7,503.1 181.2,502.7 182.7,502.2 184.2,501.6 185.7,500.9 187.2,500.2 188.7,499.3 190.2,498.4 191.7,497.3 193.2,496.2 194.7,495.1 196.2,493.9 197.7,492.8 199.2,491.6 200.7,490.4 202.2,489.2 203.7,488.1 205.2,487 206.7,485.9 208.2,484.8 209.7,483.5 211.2,482 212.7,480.1 214.2,477.8 215.7,474.8 217.2,471.4 218.7,468.2 220.2,465.6 221.7,463.2 223.2,460.8 224.7,458.3 226.2,455.6 227.7,452.7 229.2,449.7 230.7,446.4 232.2,442.8 233.7,438.8 235.2,434.5 236.7,430.1 238.2,425.7 239.7,421.5 241.2,417.7 242.7,414.2 244.2,410.8 245.7,407.5 247.2,404.1 248.7,400.6 250.2,397 251.7,393 253.2,388.8 254.7,384.2 256.2,379.3 257.7,374.5 259.2,370 260.7,366.1 262.2,363.1 263.7,360.8 265.2,359.1 266.7,357.7 268.2,356.4 269.7,355.3 271.2,354.3 272.7,353.3 274.2,352.4 275.7,351.5 277.2,350.8 278.7,350.5 280.2,350.9 281.7,351.9 283.2,353.6 284.7,356.2 286.2,359.4 287.7,363 289.2,366.7 290.7,370.7 292.2,374.7 293.7,378.7 295.2,382.7 296.7,386.6 298.2,390.3 299.7,393.3 301.2,395.8 302.7,398.5 304.2,401.9 305.7,405.9 307.2,410.3 308.7,414.9 310.2,419.6 311.7,424.4 313.2,429.1 314.7,433.3 316.2,437.1 317.7,440.5 319.2,443.6 320.7,446.5 322.2,449.3 323.7,451.9 325.2,454.5 326.7,457.1 328.2,459.7 329.7,462.2 331.2,464.8 332.7,467.3 334.2,470 335.7,472.6 337.2,475.3 338.7,477.9 340.2,480.3 341.7,482.7 343.2,484.9 344.7,487 346.2,489 347.7,490.9 349.2,492.6 350.7,494.1 352.2,495.5 353.7,496.6 355.2,497.6 356.7,498.5 358.2,499.3 359.7,500 361.2,500.6 362.7,501.1 364.2,501.6 365.7,502 367.2,502.3 368.7,502.7 370.2,503 371.7,503.3 373.2,503.5 374.7,503.8 376.2,504 377.7,504.2 379.2,504.5 380.7,504.7 382.2,504.9 383.7,505 385.2,505.2 386.7,505.4 388.2,505.5 389.7,505.6 391.2,505.8 392.7,505.9 394.2,506 395.7,506.1 397.2,506.2 398.7,506.3 400.2,506.4 401.7,506.5 403.2,506.5 404.7,506.6 406.2,506.6 407.7,506.7 409.2,506.7 410.7,506.8 412.2,506.8 413.7,506.9 415.2,506.9 416.7,506.9 418.2,506.9 419.7,506.9 421.2,507 L421.2,507Z"/>
<clipPath id="c1b"><use href="#f1b"/></clipPath>
<path id="f1g" d="M149.7,507 L149.7,507 151.2,506.9 152.7,506.9 154.2,506.9 155.7,506.9 157.2,506.8 158.7,506.8 160.2,506.8 161.7,506.7 163.2,506.7 164.7,506.6 166.2,506.6 167.7,506.6 169.2,506.5 170.7,506.5 172.2,506.4 173.7,506.3 175.2,506.3 176.7,506.2 178.2,506.1 179.7,506 181.2,505.9 182.7,505.8 184.2,505.6 185.7,505.5 187.2,505.3 188.7,505.1 190.2,504.9 191.7,504.6 193.2,504.3 194.7,504 196.2,503.6 197.7,503.2 199.2,502.7 200.7,502.2 202.2,501.5 203.7,500.8 205.2,500 206.7,499 208.2,498 209.7,496.9 211.2,495.6 212.7,494.2 214.2,492.7 215.7,491 217.2,489.2 218.7,487 220.2,484.6 221.7,481.9 223.2,478.9 224.7,475.5 226.2,471.9 227.7,468.2 229.2,464.4 230.7,460.5 232.2,456.5 233.7,452.2 235.2,447.6 236.7,442.5 238.2,436.9 239.7,430.9 241.2,424.9 242.7,419.2 244.2,413.9 245.7,408.9 247.2,403.8 248.7,398.6 250.2,392.8 251.7,386.6 253.2,380.2 254.7,373.7 256.2,367.2 257.7,360.5 259.2,353.6 260.7,346.7 262.2,340.2 263.7,334.6 265.2,330.2 266.7,327.3 268.2,325.5 269.7,324.6 271.2,324.1 272.7,324 274.2,324 275.7,324 277.2,324 278.7,324.1 280.2,324.5 281.7,325.5 283.2,327.2 284.7,329.7 286.2,333 287.7,336.9 289.2,341.3 290.7,346 292.2,350.9 293.7,356.1 295.2,361.4 296.7,366.8 298.2,372.2 299.7,377.9 301.2,383.9 302.7,389.6 304.2,394.8 305.7,399.9 307.2,405.5 308.7,411.5 310.2,417.3 311.7,423 313.2,428.6 314.7,434 316.2,439.3 317.7,444.4 319.2,449.4 320.7,454.2 322.2,458.7 323.7,463 325.2,467.1 326.7,471.1 328.2,474.7 329.7,478.2 331.2,481.4 332.7,484.3 334.2,487 335.7,489.3 337.2,491.4 338.7,493.1 340.2,494.7 341.7,496.1 343.2,497.4 344.7,498.5 346.2,499.6 347.7,500.5 349.2,501.4 350.7,502.1 352.2,502.8 353.7,503.3 355.2,503.8 356.7,504.2 358.2,504.6 359.7,504.9 361.2,505.2 362.7,505.5 364.2,505.7 365.7,505.9 367.2,506 368.7,506.2 370.2,506.3 371.7,506.4 373.2,506.5 374.7,506.6 376.2,506.6 377.7,506.7 379.2,506.7 380.7,506.8 382.2,506.8 383.7,506.9 385.2,506.9 386.7,507 L386.7,507Z"/>
<clipPath id="c1g"><use href="#f1g"/></clipPath>
<path id="l1r" d="M146.7,507 L155.7,507 L157.2,506.9 L158.7,506.9 L160.2,506.9 L161.7,506.8 L163.2,506.8 L164.7,506.8 L166.2,506.7 L167.7,506.7 L169.2,506.6 L170.7,506.6 L172.2,506.5 L173.7,506.4 L175.2,506.4 L176.7,506.3 L178.2,506.3 L179.7,506.2 L181.2,506.1 L182.7,506 L184.2,505.9 L185.7,505.8 L187.2,505.6 L188.7,505.3 L190.2,504.9 L191.7,504.3 L193.2,503.6 L194.7,503 L196.2,502.5 L197.7,501.9 L199.2,501.3 L200.7,500.6 L202.2,499.7 L203.7,498.7 L205.2,497.7 L206.7,496.5 L208.2,495.2 L209.7,493.8 L211.2,492.2 L212.7,490.3 L214.2,488.2 L215.7,485.8 L217.2,483 L218.7,479.8 L220.2,476.2 L221.7,472.5 L223.2,468.8 L224.7,465.3 L226.2,461.8 L227.7,458.5 L229.2,455.1 L230.7,451.5 L232.2,447.7 L233.7,443.6 L235.2,439 L236.7,434 L238.2,428.7 L239.7,423.3 L241.2,417.7 L242.7,412 L244.2,406.1 L245.7,399.9 L247.2,393.4 L248.7,386.8 L250.2,380.8 L251.7,375.4 L253.2,370.7 L254.7,366.2 L256.2,361.9 L257.7,357.5 L259.2,353.2 L260.7,348.9 L262.2,344.6 L263.7,340.3 L265.2,336.7 L266.7,334 L268.2,332.2 L269.7,330.8 L271.2,329.6 L272.7,328.7 L274.2,328.1 L275.7,327.9 L277.2,327.9 L278.7,328.4 L280.2,329.5 L281.7,331.4 L283.2,333.9 L284.7,336 L286.2,338.6 L287.7,342.3 L289.2,346.2 L290.7,350.4 L292.2,354.9 L293.7,359.6 L295.2,364.3 L296.7,369.1 L298.2,374.5 L299.7,380.3 L301.2,386.1 L302.7,391.6 L304.2,396.8 L305.7,402.1 L307.2,407.9 L308.7,413.8 L310.2,419.6 L311.7,425.3 L313.2,430.8 L314.7,436.2 L316.2,441.4 L317.7,446.4 L319.2,451.3 L320.7,456 L322.2,460.4 L323.7,464.6 L325.2,468.7 L326.7,472.5 L328.2,476.1 L329.7,479.5 L331.2,482.6 L332.7,485.4 L334.2,487.9 L335.7,490.1 L337.2,492.1 L338.7,493.8 L340.2,495.3 L341.7,496.6 L343.2,497.8 L344.7,498.9 L346.2,500 L347.7,500.9 L349.2,501.7 L350.7,502.4 L352.2,503 L353.7,503.5 L355.2,504 L356.7,504.4 L358.2,504.7 L359.7,505 L361.2,505.3 L362.7,505.6 L364.2,505.8 L365.7,506 L367.2,506.1 L368.7,506.2 L370.2,506.3 L371.7,506.4 L373.2,506.5 L374.7,506.6 L376.2,506.7 L377.7,506.7 L379.2,506.8 L380.7,506.8 L382.2,506.9 L383.7,506.9 L385.2,507 L386.7,507 L389.7,507"/>
<path id="l1b" d="M131.7,507 L134.7,507 L136.2,506.9 L137.7,506.8 L139.2,506.7 L140.7,506.6 L142.2,506.6 L143.7,506.5 L145.2,506.5 L146.7,506.4 L148.2,506.3 L149.7,506.3 L151.2,506.2 L152.7,506.1 L154.2,506 L155.7,505.9 L157.2,505.8 L158.7,505.7 L160.2,505.6 L161.7,505.5 L163.2,505.4 L164.7,505.3 L166.2,505.1 L167.7,505 L169.2,504.8 L170.7,504.6 L172.2,504.5 L173.7,504.2 L175.2,504 L176.7,503.7 L178.2,503.4 L179.7,503.1 L181.2,502.7 L182.7,502.2 L184.2,501.6 L185.7,500.9 L187.2,500.2 L188.7,499.3 L190.2,498.4 L191.7,497.3 L193.2,496.2 L194.7,495.1 L196.2,493.9 L197.7,492.8 L199.2,491.6 L200.7,490.4 L202.2,489.2 L203.7,488.1 L205.2,487 L206.7,485.9 L208.2,484.8 L209.7,483.5 L211.2,482 L212.7,480.1 L214.2,477.8 L215.7,474.8 L217.2,471.4 L218.7,468.2 L220.2,465.6 L221.7,463.2 L223.2,460.8 L224.7,458.3 L226.2,455.6 L227.7,452.7 L229.2,449.7 L230.7,446.4 L232.2,442.8 L233.7,438.8 L235.2,434.5 L236.7,430.1 L238.2,425.7 L239.7,421.5 L241.2,417.7 L242.7,414.2 L244.2,410.8 L245.7,407.5 L247.2,404.1 L248.7,400.6 L250.2,397 L251.7,393 L253.2,388.8 L254.7,384.2 L256.2,379.3 L257.7,374.5 L259.2,370 L260.7,366.1 L262.2,363.1 L263.7,360.8 L265.2,359.1 L266.7,357.7 L268.2,356.4 L269.7,355.3 L271.2,354.3 L272.7,353.3 L274.2,352.4 L275.7,351.5 L277.2,350.8 L278.7,350.5 L280.2,350.9 L281.7,351.9 L283.2,353.6 L284.7,356.2 L286.2,359.4 L287.7,363 L289.2,366.7 L290.7,370.7 L292.2,374.7 L293.7,378.7 L295.2,382.7 L296.7,386.6 L298.2,390.3 L299.7,393.3 L301.2,395.8 L302.7,398.5 L304.2,401.9 L305.7,405.9 L307.2,410.3 L308.7,414.9 L310.2,419.6 L311.7,424.4 L313.2,429.1 L314.7,433.3 L316.2,437.1 L317.7,440.5 L319.2,443.6 L320.7,446.5 L322.2,449.3 L323.7,451.9 L325.2,454.5 L326.7,457.1 L328.2,459.7 L329.7,462.2 L331.2,464.8 L332.7,467.3 L334.2,470 L335.7,472.6 L337.2,475.3 L338.7,477.9 L340.2,480.3 L341.7,482.7 L343.2,484.9 L344.7,487 L346.2,489 L347.7,490.9 L349.2,492.6 L350.7,494.1 L352.2,495.5 L353.7,496.6 L355.2,497.6 L356.7,498.5 L358.2,499.3 L359.7,500 L361.2,500.6 L362.7,501.1 L364.2,501.6 L365.7,502 L367.2,502.3 L368.7,502.7 L370.2,503 L371.7,503.3 L373.2,503.5 L374.7,503.8 L376.2,504 L377.7,504.2 L379.2,504.5 L380.7,504.7 L382.2,504.9 L383.7,505 L385.2,505.2 L386.7,505.4 L388.2,505.5 L389.7,505.6 L391.2,505.8 L392.7,505.9 L394.2,506 L395.7,506.1 L397.2,506.2 L398.7,506.3 L400.2,506.4 L401.7,506.5 L403.2,506.5 L404.7,506.6 L406.2,506.6 L407.7,506.7 L409.2,506.7 L410.7,506.8 L412.2,506.8 L413.7,506.9 L415.2,506.9 L416.7,506.9 L418.2,506.9 L419.7,506.9 L421.2,507 L424.2,507"/>
<path id="l1g" d="M130.2,507 L149.7,507 L151.2,506.9 L152.7,506.9 L154.2,506.9 L155.7,506.9 L157.2,506.8 L158.7,506.8 L160.2,506.8 L161.7,506.7 L163.2,506.7 L164.7,506.6 L166.2,506.6 L167.7,506.6 L169.2,506.5 L170.7,506.5 L172.2,506.4 L173.7,506.3 L175.2,506.3 L176.7,506.2 L178.2,506.1 L179.7,506 L181.2,505.9 L182.7,505.8 L184.2,505.6 L185.7,505.5 L187.2,505.3 L188.7,505.1 L190.2,504.9 L191.7,504.6 L193.2,504.3 L194.7,504 L196.2,503.6 L197.7,503.2 L199.2,502.7 L200.7,502.2 L202.2,501.5 L203.7,500.8 L205.2,500 L206.7,499 L208.2,498 L209.7,496.9 L211.2,495.6 L212.7,494.2 L214.2,492.7 L215.7,491 L217.2,489.2 L218.7,487 L220.2,484.6 L221.7,481.9 L223.2,478.9 L224.7,475.5 L226.2,471.9 L227.7,468.2 L229.2,464.4 L230.7,460.5 L232.2,456.5 L233.7,452.2 L235.2,447.6 L236.7,442.5 L238.2,436.9 L239.7,430.9 L241.2,424.9 L242.7,419.2 L244.2,413.9 L245.7,408.9 L247.2,403.8 L248.7,398.6 L250.2,392.8 L251.7,386.6 L253.2,380.2 L254.7,373.7 L256.2,367.2 L257.7,360.5 L259.2,353.6 L260.7,346.7 L262.2,340.2 L263.7,334.6 L265.2,330.2 L266.7,327.3 L268.2,325.5 L269.7,324.6 L271.2,324.1 L272.7,324 L274.2,324 L275.7,324 L277.2,324 L278.7,324.1 L280.2,324.5 L281.7,325.5 L283.2,327.2 L284.7,329.7 L286.2,333 L287.7,336.9 L289.2,341.3 L290.7,346 L292.2,350.9 L293.7,356.1 L295.2,361.4 L296.7,366.8 L298.2,372.2 L299.7,377.9 L301.2,383.9 L302.7,389.6 L304.2,394.8 L305.7,399.9 L307.2,405.5 L308.7,411.5 L310.2,417.3 L311.7,423 L313.2,428.6 L314.7,434 L316.2,439.3 L317.7,444.4 L319.2,449.4 L320.7,454.2 L322.2,458.7 L323.7,463 L325.2,467.1 L326.7,471.1 L328.2,474.7 L329.7,478.2 L331.2,481.4 L332.7,484.3 L334.2,487 L335.7,489.3 L337.2,491.4 L338.7,493.1 L340.2,494.7 L341.7,496.1 L343.2,497.4 L344.7,498.5 L346.2,499.6 L347.7,500.5 L349.2,501.4 L350.7,502.1 L352.2,502.8 L353.7,503.3 L355.2,503.8 L356.7,504.2 L358.2,504.6 L359.7,504.9 L361.2,505.2 L362.7,505.5 L364.2,505.7 L365.7,505.9 L367.2,506 L368.7,506.2 L370.2,506.3 L371.7,506.4 L373.2,506.5 L374.7,506.6 L376.2,506.6 L377.7,506.7 L379.2,506.7 L380.7,506.8 L382.2,506.8 L383.7,506.9 L385.2,506.9 L386.7,507 L1667.2,507"/>
</defs>
<use href="#f1r" fill="#FEDDE4"/>
<use href="#f1b" fill="#E0EBFE"/>
<use href="#f1g" fill="#E9FEE0"/>
<use href="#f1b" fill="#E2D0EA" clip-path="url(#c1r)"/>
<use href="#f1g" fill="#E6EECA" clip-path="url(#c1r)"/>
<use href="#f1g" fill="#D0F0E2" clip-path="url(#c1b)"/>
<g clip-path="url(#c1r)"><use href="#f1g" fill="#CEE8D4" clip-path="url(#c1b)"/></g>
<use class="l" href="#l1r" stroke="#FA5B7E"/>
<use class="l" href="#l1r" stroke="#DE6896" clip-path="url(#c1b)"/>
<use class="l" href="#l1r" stroke="#E88274" clip-path="url(#c1g)"/>
<g clip-path="url(#c1b)"><use class="l" href="#l1r" stroke="#D0888C" clip-path="url(#c1g)"/></g>
<use class="l" href="#l1b" stroke="#68A0F8"/>
<use class="l" href="#l1b" stroke="#6EBAF8" clip-path="url(#c1g)"/>
<use class="lg" href="#l1g" stroke="#96FC65"/>
<rect class="k" x="751.15" y="326.5" width="30.75" height="31.2" fill="#FEDDE4" stroke="#FA5B7E"/>
<text y="353.9"><tspan x="801">Zn</tspan><tspan x="840.2" y="342.9" font-size="19.5" stroke-width="0.5">2</tspan><tspan x="851.3" y="345.5" font-size="20" stroke-width="0.5">+</tspan><tspan x="862.3" y="357.3" font-size="34">−</tspan><tspan x="881.8" y="353.9">bound, mode I</tspan></text>
<rect class="k" x="751.15" y="363.3" width="30.75" height="31.2" fill="#E0EBFE" stroke="#68A0F8"/>
<text y="390.65"><tspan x="801">Zn</tspan><tspan x="840.2" y="379.65" font-size="19.5" stroke-width="0.5">2</tspan><tspan x="851.3" y="382.25" font-size="20" stroke-width="0.5">+</tspan><tspan x="862.3" y="394.05" font-size="34">−</tspan><tspan x="881.8" y="390.65">bound, mode II</tspan></text>
<rect class="k" x="751.15" y="400.1" width="30.75" height="31.2" fill="#E9FEE0" stroke="#96FC65"/>
<text y="427.4"><tspan x="801">Zn</tspan><tspan x="840.2" y="416.4" font-size="19.5" stroke-width="0.5">2</tspan><tspan x="851.3" y="419" font-size="20" stroke-width="0.5">+</tspan><tspan x="862.3" y="430.8" font-size="34">−</tspan><tspan x="881.8" y="427.4">free</tspan></text>
<line class="ax" x1="53.449999999999996" y1="314.4" x2="53.449999999999996" y2="516.3"/>
</g>
<g id="panel-IIH">
<rect x="53.4" y="532.8" width="1690.6" height="47.8" fill="#CCD8D8"/>
<text transform="translate(899.1,569.1) scale(1,1.035)" text-anchor="middle">IIH</text>
<defs>
<path id="f2r" d="M1024.2,773.2 L1024.2,773.2 1025.7,773.1 1027.2,773.1 1028.7,773.1 1030.2,773 1031.7,773 1033.2,773 1034.7,772.9 1036.2,772.9 1037.7,772.9 1039.2,772.8 1040.7,772.8 1042.2,772.8 1043.7,772.7 1045.2,772.7 1046.7,772.6 1048.2,772.6 1049.7,772.5 1051.2,772.5 1052.7,772.4 1054.2,772.4 1055.7,772.3 1057.2,772.2 1058.7,772.1 1060.2,772 1061.7,771.8 1063.2,771.7 1064.7,771.5 1066.2,771.4 1067.7,771.2 1069.2,771 1070.7,770.8 1072.2,770.6 1073.7,770.4 1075.2,770.3 1076.7,770.1 1078.2,769.9 1079.7,769.7 1081.2,769.5 1082.7,769.3 1084.2,769 1085.7,768.7 1087.2,768.4 1088.7,768.1 1090.2,767.6 1091.7,767.1 1093.2,766.5 1094.7,765.8 1096.2,765.1 1097.7,764.4 1099.2,763.5 1100.7,762.7 1102.2,761.7 1103.7,760.6 1105.2,759.5 1106.7,758.2 1108.2,757 1109.7,755.7 1111.2,754.3 1112.7,752.8 1114.2,751.3 1115.7,749.7 1117.2,748 1118.7,746.2 1120.2,744.4 1121.7,742.6 1123.2,740.6 1124.7,738.5 1126.2,736.3 1127.7,734.2 1129.2,732 1130.7,730 1132.2,727.9 1133.7,725.9 1135.2,724 1136.7,722 1138.2,720.2 1139.7,718.4 1141.2,716.6 1142.7,714.9 1144.2,713.3 1145.7,711.6 1147.2,710.1 1148.7,708.5 1150.2,706.9 1151.7,705.4 1153.2,703.9 1154.7,702.4 1156.2,700.9 1157.7,699.5 1159.2,698.1 1160.7,696.7 1162.2,695.3 1163.7,693.9 1165.2,692.6 1166.7,691.4 1168.2,690.2 1169.7,689.1 1171.2,688 1172.7,687 1174.2,686 1175.7,685.1 1177.2,684.2 1178.7,683.3 1180.2,682.6 1181.7,681.9 1183.2,681.3 1184.7,680.9 1186.2,680.5 1187.7,680.1 1189.2,679.9 1190.7,679.9 1192.2,680.1 1193.7,680.4 1195.2,680.9 1196.7,681.5 1198.2,682.2 1199.7,683 1201.2,683.8 1202.7,684.8 1204.2,685.9 1205.7,687 1207.2,688.1 1208.7,689.1 1210.2,690.1 1211.7,691 1213.2,691.8 1214.7,692.6 1216.2,693.5 1217.7,694.3 1219.2,695.3 1220.7,696.4 1222.2,697.6 1223.7,698.9 1225.2,700.3 1226.7,701.7 1228.2,703.1 1229.7,704.5 1231.2,705.8 1232.7,707.2 1234.2,708.5 1235.7,709.9 1237.2,711.2 1238.7,712.6 1240.2,713.9 1241.7,715.3 1243.2,716.6 1244.7,718 1246.2,719.3 1247.7,720.7 1249.2,722.1 1250.7,723.4 1252.2,724.8 1253.7,726.1 1255.2,727.5 1256.7,728.8 1258.2,730.1 1259.7,731.3 1261.2,732.6 1262.7,733.8 1264.2,734.9 1265.7,736 1267.2,737 1268.7,738.1 1270.2,739 1271.7,739.9 1273.2,740.8 1274.7,741.5 1276.2,742.1 1277.7,742.6 1279.2,743.1 1280.7,743.6 1282.2,744 1283.7,744.3 1285.2,744.6 1286.7,744.8 1288.2,745 1289.7,745.2 1291.2,745.4 1292.7,745.6 1294.2,745.8 1295.7,746 1297.2,746.3 1298.7,746.5 1300.2,746.8 1301.7,747.1 1303.2,747.4 1304.7,747.8 1306.2,748.1 1307.7,748.6 1309.2,749.1 1310.7,749.7 1312.2,750.2 1313.7,750.8 1315.2,751.3 1316.7,751.8 1318.2,752.3 1319.7,752.8 1321.2,753.2 1322.7,753.6 1324.2,754 1325.7,754.4 1327.2,754.7 1328.7,755 1330.2,755.2 1331.7,755.5 1333.2,755.7 1334.7,755.9 1336.2,756.2 1337.7,756.4 1339.2,756.7 1340.7,756.9 1342.2,757.1 1343.7,757.4 1345.2,757.6 1346.7,757.9 1348.2,758.2 1349.7,758.5 1351.2,758.8 1352.7,759.2 1354.2,759.6 1355.7,760 1357.2,760.4 1358.7,760.8 1360.2,761.2 1361.7,761.6 1363.2,762 1364.7,762.5 1366.2,762.9 1367.7,763.4 1369.2,763.8 1370.7,764.1 1372.2,764.4 1373.7,764.8 1375.2,765 1376.7,765.3 1378.2,765.6 1379.7,765.8 1381.2,766.1 1382.7,766.4 1384.2,766.6 1385.7,766.9 1387.2,767.1 1388.7,767.4 1390.2,767.7 1391.7,767.9 1393.2,768.1 1394.7,768.4 1396.2,768.6 1397.7,768.8 1399.2,769 1400.7,769.2 1402.2,769.4 1403.7,769.5 1405.2,769.7 1406.7,769.9 1408.2,770 1409.7,770.2 1411.2,770.4 1412.7,770.5 1414.2,770.7 1415.7,770.8 1417.2,770.9 1418.7,771.1 1420.2,771.2 1421.7,771.4 1423.2,771.5 1424.7,771.6 1426.2,771.7 1427.7,771.9 1429.2,772 1430.7,772.1 1432.2,772.2 1433.7,772.3 1435.2,772.4 1436.7,772.5 1438.2,772.6 1439.7,772.7 1441.2,772.8 1442.7,772.9 1444.2,773 1445.7,773 1447.2,773 1448.7,773.1 1450.2,773.1 1451.7,773.1 1453.2,773.1 1454.7,773.1 1456.2,773.1 1457.7,773.2 L1457.7,773.2Z"/>
<clipPath id="c2r"><use href="#f2r"/></clipPath>
<path id="f2b" d="M131.7,773.2 L131.7,773.2 133.2,773.1 134.7,773 136.2,772.8 137.7,772.5 139.2,772.2 140.7,771.9 142.2,771.6 143.7,771.2 145.2,770.9 146.7,770.6 148.2,770.4 149.7,770.2 151.2,770 152.7,769.8 154.2,769.6 155.7,769.4 157.2,769.2 158.7,769 160.2,768.8 161.7,768.5 163.2,768.3 164.7,768 166.2,767.6 167.7,767.2 169.2,766.8 170.7,766.2 172.2,765.7 173.7,765.1 175.2,764.4 176.7,763.7 178.2,763 179.7,762.3 181.2,761.4 182.7,760.6 184.2,759.6 185.7,758.7 187.2,757.7 188.7,756.6 190.2,755.5 191.7,754.3 193.2,753.1 194.7,751.8 196.2,750.6 197.7,749.4 199.2,748.3 200.7,747.1 202.2,746 203.7,744.8 205.2,743.4 206.7,742 208.2,740.3 209.7,738.5 211.2,736.5 212.7,734.5 214.2,732.4 215.7,730.2 217.2,727.9 218.7,725.6 220.2,723.4 221.7,721.2 223.2,719.1 224.7,717.1 226.2,715 227.7,713 229.2,711 230.7,709 232.2,706.9 233.7,704.8 235.2,702.6 236.7,700.2 238.2,697.6 239.7,694.9 241.2,692.2 242.7,689.7 244.2,687.4 245.7,685.2 247.2,683.2 248.7,681.2 250.2,679.4 251.7,677.7 253.2,676.1 254.7,674.6 256.2,673.2 257.7,671.9 259.2,670.8 260.7,669.8 262.2,668.9 263.7,668.1 265.2,667.4 266.7,666.8 268.2,666.3 269.7,665.9 271.2,665.5 272.7,665.2 274.2,664.9 275.7,664.7 277.2,664.5 278.7,664.5 280.2,664.5 281.7,664.7 283.2,665.1 284.7,665.7 286.2,666.4 287.7,667.5 289.2,668.9 290.7,670.5 292.2,672.1 293.7,673.8 295.2,675.6 296.7,677.3 298.2,678.8 299.7,680.2 301.2,681.5 302.7,682.7 304.2,683.8 305.7,684.9 307.2,686 308.7,686.9 310.2,687.9 311.7,689 313.2,690.1 314.7,691.4 316.2,692.7 317.7,694 319.2,695.4 320.7,696.8 322.2,698.2 323.7,699.7 325.2,701.2 326.7,702.7 328.2,704.3 329.7,706 331.2,707.7 332.7,709.5 334.2,711.3 335.7,713.1 337.2,715 338.7,716.8 340.2,718.6 341.7,720.3 343.2,722.1 344.7,723.9 346.2,725.8 347.7,727.6 349.2,729.5 350.7,731.5 352.2,733.4 353.7,735.4 355.2,737.4 356.7,739.4 358.2,741.4 359.7,743.4 361.2,745.4 362.7,747.4 364.2,749.2 365.7,750.9 367.2,752.5 368.7,753.9 370.2,755.3 371.7,756.6 373.2,757.9 374.7,759.1 376.2,760.3 377.7,761.4 379.2,762.5 380.7,763.6 382.2,764.5 383.7,765.4 385.2,766.1 386.7,766.8 388.2,767.5 389.7,768.1 391.2,768.6 392.7,769.1 394.2,769.6 395.7,769.9 397.2,770.2 398.7,770.5 400.2,770.8 401.7,771 403.2,771.3 404.7,771.4 406.2,771.6 407.7,771.8 409.2,771.9 410.7,772 412.2,772.1 413.7,772.3 415.2,772.4 416.7,772.5 418.2,772.5 419.7,772.6 421.2,772.7 422.7,772.7 424.2,772.7 425.7,772.8 427.2,772.8 428.7,772.8 430.2,772.9 431.7,772.9 433.2,772.9 434.7,772.9 436.2,773 437.7,773 439.2,773 440.7,773 442.2,773.1 443.7,773.1 445.2,773.1 446.7,773.1 448.2,773.2 L448.2,773.2Z"/>
<clipPath id="c2b"><use href="#f2b"/></clipPath>
<path id="f2g" d="M1010.7,773.2 L1010.7,773.2 1012.2,773.1 1013.7,773.1 1015.2,773 1016.7,773 1018.2,773 1019.7,772.9 1021.2,772.9 1022.7,772.8 1024.2,772.8 1025.7,772.7 1027.2,772.7 1028.7,772.6 1030.2,772.6 1031.7,772.5 1033.2,772.5 1034.7,772.4 1036.2,772.3 1037.7,772.3 1039.2,772.2 1040.7,772.1 1042.2,772.1 1043.7,772 1045.2,771.9 1046.7,771.8 1048.2,771.7 1049.7,771.5 1051.2,771.4 1052.7,771.3 1054.2,771.1 1055.7,770.9 1057.2,770.7 1058.7,770.5 1060.2,770.3 1061.7,770 1063.2,769.7 1064.7,769.4 1066.2,769 1067.7,768.7 1069.2,768.3 1070.7,768 1072.2,767.6 1073.7,767.3 1075.2,767 1076.7,766.6 1078.2,766.3 1079.7,765.9 1081.2,765.5 1082.7,765.2 1084.2,764.8 1085.7,764.4 1087.2,764 1088.7,763.6 1090.2,763.2 1091.7,762.8 1093.2,762.3 1094.7,761.9 1096.2,761.5 1097.7,761 1099.2,760.5 1100.7,759.9 1102.2,759.3 1103.7,758.5 1105.2,757.7 1106.7,756.7 1108.2,755.7 1109.7,754.6 1111.2,753.5 1112.7,752.5 1114.2,751.4 1115.7,750.4 1117.2,749.4 1118.7,748.4 1120.2,747.4 1121.7,746.4 1123.2,745.4 1124.7,744.4 1126.2,743.5 1127.7,742.6 1129.2,741.7 1130.7,740.8 1132.2,740 1133.7,739.1 1135.2,738.3 1136.7,737.5 1138.2,736.7 1139.7,736 1141.2,735.3 1142.7,734.5 1144.2,733.8 1145.7,733 1147.2,732.2 1148.7,731.4 1150.2,730.5 1151.7,729.6 1153.2,728.7 1154.7,727.8 1156.2,726.9 1157.7,726.1 1159.2,725.3 1160.7,724.5 1162.2,723.8 1163.7,723.1 1165.2,722.3 1166.7,721.6 1168.2,720.8 1169.7,720.1 1171.2,719.3 1172.7,718.6 1174.2,717.8 1175.7,717 1177.2,716.3 1178.7,715.6 1180.2,714.9 1181.7,714.2 1183.2,713.6 1184.7,713 1186.2,712.4 1187.7,711.8 1189.2,711.2 1190.7,710.5 1192.2,709.8 1193.7,709.1 1195.2,708.3 1196.7,707.5 1198.2,706.8 1199.7,706 1201.2,705.3 1202.7,704.5 1204.2,703.8 1205.7,703 1207.2,702.3 1208.7,701.6 1210.2,701 1211.7,700.4 1213.2,700 1214.7,699.6 1216.2,699.2 1217.7,698.9 1219.2,698.6 1220.7,698.4 1222.2,698.2 1223.7,698.1 1225.2,698.1 1226.7,698 1228.2,698 1229.7,698 1231.2,697.9 1232.7,697.9 1234.2,697.9 1235.7,697.9 1237.2,697.8 1238.7,697.8 1240.2,697.8 1241.7,697.8 1243.2,697.7 1244.7,697.7 1246.2,697.8 1247.7,697.9 1249.2,698.1 1250.7,698.4 1252.2,698.8 1253.7,699.2 1255.2,699.7 1256.7,700.2 1258.2,700.8 1259.7,701.5 1261.2,702.3 1262.7,703 1264.2,703.8 1265.7,704.5 1267.2,705.3 1268.7,706 1270.2,706.8 1271.7,707.5 1273.2,708.3 1274.7,709.1 1276.2,709.9 1277.7,710.6 1279.2,711.5 1280.7,712.3 1282.2,713.2 1283.7,714.1 1285.2,715.1 1286.7,716.2 1288.2,717.2 1289.7,718.3 1291.2,719.4 1292.7,720.5 1294.2,721.5 1295.7,722.6 1297.2,723.6 1298.7,724.7 1300.2,725.7 1301.7,726.8 1303.2,727.8 1304.7,728.8 1306.2,729.9 1307.7,730.9 1309.2,732 1310.7,733.1 1312.2,734.3 1313.7,735.5 1315.2,736.7 1316.7,737.9 1318.2,739.1 1319.7,740.4 1321.2,741.6 1322.7,742.8 1324.2,744.1 1325.7,745.3 1327.2,746.4 1328.7,747.4 1330.2,748.4 1331.7,749.4 1333.2,750.2 1334.7,751.1 1336.2,752 1337.7,752.9 1339.2,753.8 1340.7,754.7 1342.2,755.6 1343.7,756.5 1345.2,757.4 1346.7,758.2 1348.2,759.1 1349.7,759.9 1351.2,760.6 1352.7,761.4 1354.2,762.1 1355.7,762.7 1357.2,763.4 1358.7,763.9 1360.2,764.5 1361.7,765 1363.2,765.5 1364.7,766 1366.2,766.5 1367.7,767 1369.2,767.4 1370.7,767.9 1372.2,768.3 1373.7,768.7 1375.2,769 1376.7,769.4 1378.2,769.7 1379.7,770 1381.2,770.3 1382.7,770.5 1384.2,770.8 1385.7,771 1387.2,771.2 1388.7,771.4 1390.2,771.6 1391.7,771.7 1393.2,771.9 1394.7,772 1396.2,772.1 1397.7,772.2 1399.2,772.4 1400.7,772.5 1402.2,772.5 1403.7,772.6 1405.2,772.7 1406.7,772.7 1408.2,772.8 1409.7,772.8 1411.2,772.9 1412.7,772.9 1414.2,773 1415.7,773 1417.2,773.1 1418.7,773.1 1420.2,773.2 L1420.2,773.2Z"/>
<clipPath id="c2g"><use href="#f2g"/></clipPath>
<path id="l2r" d="M1021.2,773.2 L1024.2,773.2 L1025.7,773.1 L1027.2,773.1 L1028.7,773.1 L1030.2,773 L1031.7,773 L1033.2,773 L1034.7,772.9 L1036.2,772.9 L1037.7,772.9 L1039.2,772.8 L1040.7,772.8 L1042.2,772.8 L1043.7,772.7 L1045.2,772.7 L1046.7,772.6 L1048.2,772.6 L1049.7,772.5 L1051.2,772.5 L1052.7,772.4 L1054.2,772.4 L1055.7,772.3 L1057.2,772.2 L1058.7,772.1 L1060.2,772 L1061.7,771.8 L1063.2,771.7 L1064.7,771.5 L1066.2,771.4 L1067.7,771.2 L1069.2,771 L1070.7,770.8 L1072.2,770.6 L1073.7,770.4 L1075.2,770.3 L1076.7,770.1 L1078.2,769.9 L1079.7,769.7 L1081.2,769.5 L1082.7,769.3 L1084.2,769 L1085.7,768.7 L1087.2,768.4 L1088.7,768.1 L1090.2,767.6 L1091.7,767.1 L1093.2,766.5 L1094.7,765.8 L1096.2,765.1 L1097.7,764.4 L1099.2,763.5 L1100.7,762.7 L1102.2,761.7 L1103.7,760.6 L1105.2,759.5 L1106.7,758.2 L1108.2,757 L1109.7,755.7 L1111.2,754.3 L1112.7,752.8 L1114.2,751.3 L1115.7,749.7 L1117.2,748 L1118.7,746.2 L1120.2,744.4 L1121.7,742.6 L1123.2,740.6 L1124.7,738.5 L1126.2,736.3 L1127.7,734.2 L1129.2,732 L1130.7,730 L1132.2,727.9 L1133.7,725.9 L1135.2,724 L1136.7,722 L1138.2,720.2 L1139.7,718.4 L1141.2,716.6 L1142.7,714.9 L1144.2,713.3 L1145.7,711.6 L1147.2,710.1 L1148.7,708.5 L1150.2,706.9 L1151.7,705.4 L1153.2,703.9 L1154.7,702.4 L1156.2,700.9 L1157.7,699.5 L1159.2,698.1 L1160.7,696.7 L1162.2,695.3 L1163.7,693.9 L1165.2,692.6 L1166.7,691.4 L1168.2,690.2 L1169.7,689.1 L1171.2,688 L1172.7,687 L1174.2,686 L1175.7,685.1 L1177.2,684.2 L1178.7,683.3 L1180.2,682.6 L1181.7,681.9 L1183.2,681.3 L1184.7,680.9 L1186.2,680.5 L1187.7,680.1 L1189.2,679.9 L1190.7,679.9 L1192.2,680.1 L1193.7,680.4 L1195.2,680.9 L1196.7,681.5 L1198.2,682.2 L1199.7,683 L1201.2,683.8 L1202.7,684.8 L1204.2,685.9 L1205.7,687 L1207.2,688.1 L1208.7,689.1 L1210.2,690.1 L1211.7,691 L1213.2,691.8 L1214.7,692.6 L1216.2,693.5 L1217.7,694.3 L1219.2,695.3 L1220.7,696.4 L1222.2,697.6 L1223.7,698.9 L1225.2,700.3 L1226.7,701.7 L1228.2,703.1 L1229.7,704.5 L1231.2,705.8 L1232.7,707.2 L1234.2,708.5 L1235.7,709.9 L1237.2,711.2 L1238.7,712.6 L1240.2,713.9 L1241.7,715.3 L1243.2,716.6 L1244.7,718 L1246.2,719.3 L1247.7,720.7 L1249.2,722.1 L1250.7,723.4 L1252.2,724.8 L1253.7,726.1 L1255.2,727.5 L1256.7,728.8 L1258.2,730.1 L1259.7,731.3 L1261.2,732.6 L1262.7,733.8 L1264.2,734.9 L1265.7,736 L1267.2,737 L1268.7,738.1 L1270.2,739 L1271.7,739.9 L1273.2,740.8 L1274.7,741.5 L1276.2,742.1 L1277.7,742.6 L1279.2,743.1 L1280.7,743.6 L1282.2,744 L1283.7,744.3 L1285.2,744.6 L1286.7,744.8 L1288.2,745 L1289.7,745.2 L1291.2,745.4 L1292.7,745.6 L1294.2,745.8 L1295.7,746 L1297.2,746.3 L1298.7,746.5 L1300.2,746.8 L1301.7,747.1 L1303.2,747.4 L1304.7,747.8 L1306.2,748.1 L1307.7,748.6 L1309.2,749.1 L1310.7,749.7 L1312.2,750.2 L1313.7,750.8 L1315.2,751.3 L1316.7,751.8 L1318.2,752.3 L1319.7,752.8 L1321.2,753.2 L1322.7,753.6 L1324.2,754 L1325.7,754.4 L1327.2,754.7 L1328.7,755 L1330.2,755.2 L1331.7,755.5 L1333.2,755.7 L1334.7,755.9 L1336.2,756.2 L1337.7,756.4 L1339.2,756.7 L1340.7,756.9 L1342.2,757.1 L1343.7,757.4 L1345.2,757.6 L1346.7,757.9 L1348.2,758.2 L1349.7,758.5 L1351.2,758.8 L1352.7,759.2 L1354.2,759.6 L1355.7,760 L1357.2,760.4 L1358.7,760.8 L1360.2,761.2 L1361.7,761.6 L1363.2,762 L1364.7,762.5 L1366.2,762.9 L1367.7,763.4 L1369.2,763.8 L1370.7,764.1 L1372.2,764.4 L1373.7,764.8 L1375.2,765 L1376.7,765.3 L1378.2,765.6 L1379.7,765.8 L1381.2,766.1 L1382.7,766.4 L1384.2,766.6 L1385.7,766.9 L1387.2,767.1 L1388.7,767.4 L1390.2,767.7 L1391.7,767.9 L1393.2,768.1 L1394.7,768.4 L1396.2,768.6 L1397.7,768.8 L1399.2,769 L1400.7,769.2 L1402.2,769.4 L1403.7,769.5 L1405.2,769.7 L1406.7,769.9 L1408.2,770 L1409.7,770.2 L1411.2,770.4 L1412.7,770.5 L1414.2,770.7 L1415.7,770.8 L1417.2,770.9 L1418.7,771.1 L1420.2,771.2 L1421.7,771.4 L1423.2,771.5 L1424.7,771.6 L1426.2,771.7 L1427.7,771.9 L1429.2,772 L1430.7,772.1 L1432.2,772.2 L1433.7,772.3 L1435.2,772.4 L1436.7,772.5 L1438.2,772.6 L1439.7,772.7 L1441.2,772.8 L1442.7,772.9 L1444.2,773 L1445.7,773 L1447.2,773 L1448.7,773.1 L1450.2,773.1 L1451.7,773.1 L1453.2,773.1 L1454.7,773.1 L1456.2,773.1 L1457.7,773.2 L1460.7,773.2"/>
<path id="l2b" d="M130.2,773.2 L131.7,773.2 L133.2,773.1 L134.7,773 L136.2,772.8 L137.7,772.5 L139.2,772.2 L140.7,771.9 L142.2,771.6 L143.7,771.2 L145.2,770.9 L146.7,770.6 L148.2,770.4 L149.7,770.2 L151.2,770 L152.7,769.8 L154.2,769.6 L155.7,769.4 L157.2,769.2 L158.7,769 L160.2,768.8 L161.7,768.5 L163.2,768.3 L164.7,768 L166.2,767.6 L167.7,767.2 L169.2,766.8 L170.7,766.2 L172.2,765.7 L173.7,765.1 L175.2,764.4 L176.7,763.7 L178.2,763 L179.7,762.3 L181.2,761.4 L182.7,760.6 L184.2,759.6 L185.7,758.7 L187.2,757.7 L188.7,756.6 L190.2,755.5 L191.7,754.3 L193.2,753.1 L194.7,751.8 L196.2,750.6 L197.7,749.4 L199.2,748.3 L200.7,747.1 L202.2,746 L203.7,744.8 L205.2,743.4 L206.7,742 L208.2,740.3 L209.7,738.5 L211.2,736.5 L212.7,734.5 L214.2,732.4 L215.7,730.2 L217.2,727.9 L218.7,725.6 L220.2,723.4 L221.7,721.2 L223.2,719.1 L224.7,717.1 L226.2,715 L227.7,713 L229.2,711 L230.7,709 L232.2,706.9 L233.7,704.8 L235.2,702.6 L236.7,700.2 L238.2,697.6 L239.7,694.9 L241.2,692.2 L242.7,689.7 L244.2,687.4 L245.7,685.2 L247.2,683.2 L248.7,681.2 L250.2,679.4 L251.7,677.7 L253.2,676.1 L254.7,674.6 L256.2,673.2 L257.7,671.9 L259.2,670.8 L260.7,669.8 L262.2,668.9 L263.7,668.1 L265.2,667.4 L266.7,666.8 L268.2,666.3 L269.7,665.9 L271.2,665.5 L272.7,665.2 L274.2,664.9 L275.7,664.7 L277.2,664.5 L278.7,664.5 L280.2,664.5 L281.7,664.7 L283.2,665.1 L284.7,665.7 L286.2,666.4 L287.7,667.5 L289.2,668.9 L290.7,670.5 L292.2,672.1 L293.7,673.8 L295.2,675.6 L296.7,677.3 L298.2,678.8 L299.7,680.2 L301.2,681.5 L302.7,682.7 L304.2,683.8 L305.7,684.9 L307.2,686 L308.7,686.9 L310.2,687.9 L311.7,689 L313.2,690.1 L314.7,691.4 L316.2,692.7 L317.7,694 L319.2,695.4 L320.7,696.8 L322.2,698.2 L323.7,699.7 L325.2,701.2 L326.7,702.7 L328.2,704.3 L329.7,706 L331.2,707.7 L332.7,709.5 L334.2,711.3 L335.7,713.1 L337.2,715 L338.7,716.8 L340.2,718.6 L341.7,720.3 L343.2,722.1 L344.7,723.9 L346.2,725.8 L347.7,727.6 L349.2,729.5 L350.7,731.5 L352.2,733.4 L353.7,735.4 L355.2,737.4 L356.7,739.4 L358.2,741.4 L359.7,743.4 L361.2,745.4 L362.7,747.4 L364.2,749.2 L365.7,750.9 L367.2,752.5 L368.7,753.9 L370.2,755.3 L371.7,756.6 L373.2,757.9 L374.7,759.1 L376.2,760.3 L377.7,761.4 L379.2,762.5 L380.7,763.6 L382.2,764.5 L383.7,765.4 L385.2,766.1 L386.7,766.8 L388.2,767.5 L389.7,768.1 L391.2,768.6 L392.7,769.1 L394.2,769.6 L395.7,769.9 L397.2,770.2 L398.7,770.5 L400.2,770.8 L401.7,771 L403.2,771.3 L404.7,771.4 L406.2,771.6 L407.7,771.8 L409.2,771.9 L410.7,772 L412.2,772.1 L413.7,772.3 L415.2,772.4 L416.7,772.5 L418.2,772.5 L419.7,772.6 L421.2,772.7 L422.7,772.7 L424.2,772.7 L425.7,772.8 L427.2,772.8 L428.7,772.8 L430.2,772.9 L431.7,772.9 L433.2,772.9 L434.7,772.9 L436.2,773 L437.7,773 L439.2,773 L440.7,773 L442.2,773.1 L443.7,773.1 L445.2,773.1 L446.7,773.1 L448.2,773.2 L451.2,773.2 M1007.7,773.2 L1423.2,773.2"/>
<path id="l2g" d="M130.2,773.2 L1010.7,773.2 L1012.2,773.1 L1013.7,773.1 L1015.2,773 L1016.7,773 L1018.2,773 L1019.7,772.9 L1021.2,772.9 L1022.7,772.8 L1024.2,772.8 L1025.7,772.7 L1027.2,772.7 L1028.7,772.6 L1030.2,772.6 L1031.7,772.5 L1033.2,772.5 L1034.7,772.4 L1036.2,772.3 L1037.7,772.3 L1039.2,772.2 L1040.7,772.1 L1042.2,772.1 L1043.7,772 L1045.2,771.9 L1046.7,771.8 L1048.2,771.7 L1049.7,771.5 L1051.2,771.4 L1052.7,771.3 L1054.2,771.1 L1055.7,770.9 L1057.2,770.7 L1058.7,770.5 L1060.2,770.3 L1061.7,770 L1063.2,769.7 L1064.7,769.4 L1066.2,769 L1067.7,768.7 L1069.2,768.3 L1070.7,768 L1072.2,767.6 L1073.7,767.3 L1075.2,767 L1076.7,766.6 L1078.2,766.3 L1079.7,765.9 L1081.2,765.5 L1082.7,765.2 L1084.2,764.8 L1085.7,764.4 L1087.2,764 L1088.7,763.6 L1090.2,763.2 L1091.7,762.8 L1093.2,762.3 L1094.7,761.9 L1096.2,761.5 L1097.7,761 L1099.2,760.5 L1100.7,759.9 L1102.2,759.3 L1103.7,758.5 L1105.2,757.7 L1106.7,756.7 L1108.2,755.7 L1109.7,754.6 L1111.2,753.5 L1112.7,752.5 L1114.2,751.4 L1115.7,750.4 L1117.2,749.4 L1118.7,748.4 L1120.2,747.4 L1121.7,746.4 L1123.2,745.4 L1124.7,744.4 L1126.2,743.5 L1127.7,742.6 L1129.2,741.7 L1130.7,740.8 L1132.2,740 L1133.7,739.1 L1135.2,738.3 L1136.7,737.5 L1138.2,736.7 L1139.7,736 L1141.2,735.3 L1142.7,734.5 L1144.2,733.8 L1145.7,733 L1147.2,732.2 L1148.7,731.4 L1150.2,730.5 L1151.7,729.6 L1153.2,728.7 L1154.7,727.8 L1156.2,726.9 L1157.7,726.1 L1159.2,725.3 L1160.7,724.5 L1162.2,723.8 L1163.7,723.1 L1165.2,722.3 L1166.7,721.6 L1168.2,720.8 L1169.7,720.1 L1171.2,719.3 L1172.7,718.6 L1174.2,717.8 L1175.7,717 L1177.2,716.3 L1178.7,715.6 L1180.2,714.9 L1181.7,714.2 L1183.2,713.6 L1184.7,713 L1186.2,712.4 L1187.7,711.8 L1189.2,711.2 L1190.7,710.5 L1192.2,709.8 L1193.7,709.1 L1195.2,708.3 L1196.7,707.5 L1198.2,706.8 L1199.7,706 L1201.2,705.3 L1202.7,704.5 L1204.2,703.8 L1205.7,703 L1207.2,702.3 L1208.7,701.6 L1210.2,701 L1211.7,700.4 L1213.2,700 L1214.7,699.6 L1216.2,699.2 L1217.7,698.9 L1219.2,698.6 L1220.7,698.4 L1222.2,698.2 L1223.7,698.1 L1225.2,698.1 L1226.7,698 L1228.2,698 L1229.7,698 L1231.2,697.9 L1232.7,697.9 L1234.2,697.9 L1235.7,697.9 L1237.2,697.8 L1238.7,697.8 L1240.2,697.8 L1241.7,697.8 L1243.2,697.7 L1244.7,697.7 L1246.2,697.8 L1247.7,697.9 L1249.2,698.1 L1250.7,698.4 L1252.2,698.8 L1253.7,699.2 L1255.2,699.7 L1256.7,700.2 L1258.2,700.8 L1259.7,701.5 L1261.2,702.3 L1262.7,703 L1264.2,703.8 L1265.7,704.5 L1267.2,705.3 L1268.7,706 L1270.2,706.8 L1271.7,707.5 L1273.2,708.3 L1274.7,709.1 L1276.2,709.9 L1277.7,710.6 L1279.2,711.5 L1280.7,712.3 L1282.2,713.2 L1283.7,714.1 L1285.2,715.1 L1286.7,716.2 L1288.2,717.2 L1289.7,718.3 L1291.2,719.4 L1292.7,720.5 L1294.2,721.5 L1295.7,722.6 L1297.2,723.6 L1298.7,724.7 L1300.2,725.7 L1301.7,726.8 L1303.2,727.8 L1304.7,728.8 L1306.2,729.9 L1307.7,730.9 L1309.2,732 L1310.7,733.1 L1312.2,734.3 L1313.7,735.5 L1315.2,736.7 L1316.7,737.9 L1318.2,739.1 L1319.7,740.4 L1321.2,741.6 L1322.7,742.8 L1324.2,744.1 L1325.7,745.3 L1327.2,746.4 L1328.7,747.4 L1330.2,748.4 L1331.7,749.4 L1333.2,750.2 L1334.7,751.1 L1336.2,752 L1337.7,752.9 L1339.2,753.8 L1340.7,754.7 L1342.2,755.6 L1343.7,756.5 L1345.2,757.4 L1346.7,758.2 L1348.2,759.1 L1349.7,759.9 L1351.2,760.6 L1352.7,761.4 L1354.2,762.1 L1355.7,762.7 L1357.2,763.4 L1358.7,763.9 L1360.2,764.5 L1361.7,765 L1363.2,765.5 L1364.7,766 L1366.2,766.5 L1367.7,767 L1369.2,767.4 L1370.7,767.9 L1372.2,768.3 L1373.7,768.7 L1375.2,769 L1376.7,769.4 L1378.2,769.7 L1379.7,770 L1381.2,770.3 L1382.7,770.5 L1384.2,770.8 L1385.7,771 L1387.2,771.2 L1388.7,771.4 L1390.2,771.6 L1391.7,771.7 L1393.2,771.9 L1394.7,772 L1396.2,772.1 L1397.7,772.2 L1399.2,772.4 L1400.7,772.5 L1402.2,772.5 L1403.7,772.6 L1405.2,772.7 L1406.7,772.7 L1408.2,772.8 L1409.7,772.8 L1411.2,772.9 L1412.7,772.9 L1414.2,773 L1415.7,773 L1417.2,773.1 L1418.7,773.1 L1420.2,773.2 L1667.2,773.2"/>
</defs>
<use href="#f2r" fill="#FEDDE4"/>
<use href="#f2b" fill="#E0EBFE"/>
<use href="#f2g" fill="#E9FEE0"/>
<use href="#f2b" fill="#E2D0EA" clip-path="url(#c2r)"/>
<use href="#f2g" fill="#E6EECA" clip-path="url(#c2r)"/>
<use href="#f2g" fill="#D0F0E2" clip-path="url(#c2b)"/>
<g clip-path="url(#c2r)"><use href="#f2g" fill="#CEE8D4" clip-path="url(#c2b)"/></g>
<use class="l" href="#l2r" stroke="#FA5B7E"/>
<use class="l" href="#l2r" stroke="#DE6896" clip-path="url(#c2b)"/>
<use class="l" href="#l2r" stroke="#E88274" clip-path="url(#c2g)"/>
<g clip-path="url(#c2b)"><use class="l" href="#l2r" stroke="#D0888C" clip-path="url(#c2g)"/></g>
<use class="l" href="#l2b" stroke="#68A0F8"/>
<use class="l" href="#l2b" stroke="#6EBAF8" clip-path="url(#c2g)"/>
<use class="lg" href="#l2g" stroke="#96FC65"/>
<rect class="k" x="751.15" y="592.7" width="30.75" height="31.2" fill="#FEDDE4" stroke="#FA5B7E"/>
<text y="620.1"><tspan x="801">Zn</tspan><tspan x="840.2" y="609.1" font-size="19.5" stroke-width="0.5">2</tspan><tspan x="851.3" y="611.7" font-size="20" stroke-width="0.5">+</tspan><tspan x="862.3" y="623.5" font-size="34">−</tspan><tspan x="881.8" y="620.1">bound, mode I</tspan></text>
<rect class="k" x="751.15" y="629.5" width="30.75" height="31.2" fill="#E0EBFE" stroke="#68A0F8"/>
<text y="656.85"><tspan x="801">Zn</tspan><tspan x="840.2" y="645.85" font-size="19.5" stroke-width="0.5">2</tspan><tspan x="851.3" y="648.45" font-size="20" stroke-width="0.5">+</tspan><tspan x="862.3" y="660.25" font-size="34">−</tspan><tspan x="881.8" y="656.85">bound, mode II</tspan></text>
<rect class="k" x="751.15" y="666.3" width="30.75" height="31.2" fill="#E9FEE0" stroke="#96FC65"/>
<text y="693.6"><tspan x="801">Zn</tspan><tspan x="840.2" y="682.6" font-size="19.5" stroke-width="0.5">2</tspan><tspan x="851.3" y="685.2" font-size="20" stroke-width="0.5">+</tspan><tspan x="862.3" y="697" font-size="34">−</tspan><tspan x="881.8" y="693.6">free</tspan></text>
<line class="ax" x1="53.449999999999996" y1="580.6" x2="53.449999999999996" y2="782.5"/>
</g>
<g id="panel-IIY">
<rect x="53.4" y="799" width="1690.6" height="47.8" fill="#CCD8D8"/>
<text transform="translate(899.1,835.3) scale(1,1.035)" text-anchor="middle">IIY</text>
<defs>
<path id="f3r" d="M1225.2,1039.4 L1225.2,1039.4 1226.7,1039.3 1228.2,1039.3 1229.7,1039.2 1231.2,1039.2 1232.7,1039.1 1234.2,1039.1 1235.7,1039 1237.2,1039 1238.7,1038.9 1240.2,1038.9 1241.7,1038.8 1243.2,1038.8 1244.7,1038.7 1246.2,1038.6 1247.7,1038.6 1249.2,1038.5 1250.7,1038.4 1252.2,1038.4 1253.7,1038.3 1255.2,1038.2 1256.7,1038.2 1258.2,1038.1 1259.7,1038 1261.2,1038 1262.7,1037.9 1264.2,1037.8 1265.7,1037.7 1267.2,1037.6 1268.7,1037.6 1270.2,1037.5 1271.7,1037.4 1273.2,1037.3 1274.7,1037.2 1276.2,1037.1 1277.7,1036.9 1279.2,1036.8 1280.7,1036.7 1282.2,1036.6 1283.7,1036.5 1285.2,1036.3 1286.7,1036.2 1288.2,1036 1289.7,1035.8 1291.2,1035.5 1292.7,1035.3 1294.2,1034.9 1295.7,1034.5 1297.2,1034 1298.7,1033.5 1300.2,1033 1301.7,1032.3 1303.2,1031.7 1304.7,1030.9 1306.2,1030.2 1307.7,1029.5 1309.2,1028.9 1310.7,1028.2 1312.2,1027.6 1313.7,1027 1315.2,1026.5 1316.7,1025.9 1318.2,1025.3 1319.7,1024.7 1321.2,1024.1 1322.7,1023.5 1324.2,1022.9 1325.7,1022.2 1327.2,1021.4 1328.7,1020.6 1330.2,1019.7 1331.7,1018.7 1333.2,1017.8 1334.7,1016.7 1336.2,1015.6 1337.7,1014.5 1339.2,1013.2 1340.7,1012 1342.2,1010.7 1343.7,1009.3 1345.2,1007.9 1346.7,1006.4 1348.2,1004.9 1349.7,1003.3 1351.2,1001.7 1352.7,1000 1354.2,998.3 1355.7,996.5 1357.2,994.7 1358.7,992.8 1360.2,990.9 1361.7,989 1363.2,987.1 1364.7,985.2 1366.2,983.2 1367.7,981.2 1369.2,979.1 1370.7,976.9 1372.2,974.7 1373.7,972.4 1375.2,970.1 1376.7,967.8 1378.2,965.4 1379.7,963 1381.2,960.6 1382.7,958.2 1384.2,955.8 1385.7,953.5 1387.2,951.2 1388.7,948.9 1390.2,946.7 1391.7,944.4 1393.2,942.2 1394.7,939.9 1396.2,937.6 1397.7,935.4 1399.2,933.2 1400.7,931 1402.2,928.8 1403.7,926.7 1405.2,924.8 1406.7,923.2 1408.2,921.7 1409.7,920.5 1411.2,919.5 1412.7,918.6 1414.2,918 1415.7,917.5 1417.2,917.3 1418.7,917.4 1420.2,917.7 1421.7,918.3 1423.2,919 1424.7,919.9 1426.2,921 1427.7,922.5 1429.2,924.2 1430.7,925.9 1432.2,927.6 1433.7,929.4 1435.2,931.3 1436.7,933.3 1438.2,935.4 1439.7,937.7 1441.2,940.1 1442.7,942.6 1444.2,945.1 1445.7,947.7 1447.2,950.4 1448.7,953 1450.2,955.6 1451.7,958.1 1453.2,960.5 1454.7,962.8 1456.2,965 1457.7,967.2 1459.2,969.3 1460.7,971.4 1462.2,973.4 1463.7,975.5 1465.2,977.6 1466.7,979.8 1468.2,982 1469.7,984.3 1471.2,986.5 1472.7,988.8 1474.2,991.1 1475.7,993.4 1477.2,995.6 1478.7,997.8 1480.2,1000 1481.7,1002.1 1483.2,1004.2 1484.7,1006.2 1486.2,1008 1487.7,1009.7 1489.2,1011.2 1490.7,1012.7 1492.2,1014.1 1493.7,1015.4 1495.2,1016.7 1496.7,1018 1498.2,1019.2 1499.7,1020.3 1501.2,1021.4 1502.7,1022.4 1504.2,1023.3 1505.7,1024.2 1507.2,1025.1 1508.7,1025.9 1510.2,1026.8 1511.7,1027.8 1513.2,1028.7 1514.7,1029.6 1516.2,1030.5 1517.7,1031.3 1519.2,1032.1 1520.7,1032.8 1522.2,1033.5 1523.7,1034.1 1525.2,1034.6 1526.7,1035.1 1528.2,1035.5 1529.7,1035.8 1531.2,1036.1 1532.7,1036.3 1534.2,1036.5 1535.7,1036.7 1537.2,1036.9 1538.7,1037.1 1540.2,1037.3 1541.7,1037.5 1543.2,1037.6 1544.7,1037.8 1546.2,1037.9 1547.7,1038.1 1549.2,1038.2 1550.7,1038.3 1552.2,1038.4 1553.7,1038.5 1555.2,1038.7 1556.7,1038.8 1558.2,1038.9 1559.7,1039 1561.2,1039.1 1562.7,1039.2 1564.2,1039.3 1565.7,1039.3 1567.2,1039.4 L1567.2,1039.4Z"/>
<clipPath id="c3r"><use href="#f3r"/></clipPath>
<path id="f3b" d="M140.7,1039.4 L140.7,1039.4 142.2,1039.3 143.7,1039.3 145.2,1039.3 146.7,1039.2 148.2,1039.2 149.7,1039.1 151.2,1039.1 152.7,1039 154.2,1038.9 155.7,1038.9 157.2,1038.8 158.7,1038.7 160.2,1038.7 161.7,1038.6 163.2,1038.5 164.7,1038.5 166.2,1038.4 167.7,1038.3 169.2,1038.2 170.7,1038.2 172.2,1038.1 173.7,1038 175.2,1037.9 176.7,1037.9 178.2,1037.8 179.7,1037.7 181.2,1037.6 182.7,1037.5 184.2,1037.4 185.7,1037.3 187.2,1037.2 188.7,1037.1 190.2,1037 191.7,1036.9 193.2,1036.7 194.7,1036.6 196.2,1036.5 197.7,1036.3 199.2,1036.2 200.7,1036 202.2,1035.8 203.7,1035.6 205.2,1035.4 206.7,1035.2 208.2,1034.9 209.7,1034.5 211.2,1034 212.7,1033.5 214.2,1032.9 215.7,1032.2 217.2,1031.5 218.7,1030.8 220.2,1030.1 221.7,1029.3 223.2,1028.4 224.7,1027.4 226.2,1026.3 227.7,1025.1 229.2,1023.6 230.7,1021.9 232.2,1020.1 233.7,1018.3 235.2,1016.5 236.7,1014.6 238.2,1012.8 239.7,1010.8 241.2,1008.9 242.7,1006.9 244.2,1004.9 245.7,1002.8 247.2,1000.6 248.7,998.1 250.2,995.5 251.7,992.7 253.2,989.7 254.7,986.5 256.2,983.2 257.7,979.7 259.2,976.2 260.7,972.6 262.2,968.9 263.7,965 265.2,961.1 266.7,957 268.2,952.8 269.7,948.5 271.2,944.2 272.7,940.2 274.2,936.6 275.7,933.3 277.2,930.4 278.7,927.8 280.2,925.3 281.7,923.1 283.2,920.9 284.7,918.7 286.2,916.5 287.7,914.2 289.2,911.6 290.7,908.9 292.2,905.9 293.7,902.7 295.2,899.5 296.7,896.2 298.2,893 299.7,890.1 301.2,887.4 302.7,885.3 304.2,883.7 305.7,882.7 307.2,882.3 308.7,882.5 310.2,883.5 311.7,885.1 313.2,887.4 314.7,890.2 316.2,893.4 317.7,896.6 319.2,899.8 320.7,902.9 322.2,905.7 323.7,908.4 325.2,911.2 326.7,914.1 328.2,917.1 329.7,920.2 331.2,923.3 332.7,926.6 334.2,929.8 335.7,933.2 337.2,936.6 338.7,940.1 340.2,943.8 341.7,947.8 343.2,951.9 344.7,956.3 346.2,960.7 347.7,965.2 349.2,969.4 350.7,973.4 352.2,977.2 353.7,980.9 355.2,984.5 356.7,988 358.2,991.5 359.7,994.8 361.2,997.9 362.7,1000.9 364.2,1003.8 365.7,1006.5 367.2,1009 368.7,1011.5 370.2,1013.8 371.7,1015.9 373.2,1018 374.7,1020 376.2,1021.8 377.7,1023.5 379.2,1025.1 380.7,1026.5 382.2,1027.9 383.7,1029.1 385.2,1030.1 386.7,1030.9 388.2,1031.7 389.7,1032.4 391.2,1033 392.7,1033.5 394.2,1034 395.7,1034.5 397.2,1035 398.7,1035.4 400.2,1035.8 401.7,1036.2 403.2,1036.5 404.7,1036.7 406.2,1036.9 407.7,1037.1 409.2,1037.3 410.7,1037.5 412.2,1037.6 413.7,1037.8 415.2,1037.9 416.7,1038 418.2,1038.2 419.7,1038.3 421.2,1038.3 422.7,1038.4 424.2,1038.5 425.7,1038.6 427.2,1038.7 428.7,1038.7 430.2,1038.8 431.7,1038.9 433.2,1038.9 434.7,1039 436.2,1039 437.7,1039.1 439.2,1039.1 440.7,1039.2 442.2,1039.2 443.7,1039.2 445.2,1039.2 446.7,1039.2 448.2,1039.3 449.7,1039.3 451.2,1039.3 452.7,1039.3 454.2,1039.3 455.7,1039.3 457.2,1039.4 L457.2,1039.4Z"/>
<clipPath id="c3b"><use href="#f3b"/></clipPath>
<path id="f3g" d="M1220.7,1039.4 L1220.7,1039.4 1222.2,1039.3 1223.7,1039.3 1225.2,1039.3 1226.7,1039.3 1228.2,1039.3 1229.7,1039.3 1231.2,1039.2 1232.7,1039.2 1234.2,1039.2 1235.7,1039.2 1237.2,1039.1 1238.7,1038.9 1240.2,1038.8 1241.7,1038.6 1243.2,1038.4 1244.7,1038.2 1246.2,1037.9 1247.7,1037.7 1249.2,1037.4 1250.7,1037.1 1252.2,1036.8 1253.7,1036.6 1255.2,1036.2 1256.7,1035.9 1258.2,1035.5 1259.7,1035.1 1261.2,1034.7 1262.7,1034.2 1264.2,1033.6 1265.7,1033 1267.2,1032.2 1268.7,1031.4 1270.2,1030.5 1271.7,1029.5 1273.2,1028.3 1274.7,1027 1276.2,1025.5 1277.7,1023.9 1279.2,1022.1 1280.7,1020.3 1282.2,1018.3 1283.7,1016.2 1285.2,1013.9 1286.7,1011.6 1288.2,1009.2 1289.7,1006.6 1291.2,1003.8 1292.7,1001 1294.2,997.9 1295.7,994.7 1297.2,991.4 1298.7,987.9 1300.2,984.3 1301.7,980.4 1303.2,976.3 1304.7,971.8 1306.2,967 1307.7,962.1 1309.2,957.3 1310.7,952.5 1312.2,947.7 1313.7,942.8 1315.2,938.1 1316.7,933.6 1318.2,929.3 1319.7,925.2 1321.2,921.2 1322.7,917.2 1324.2,913.4 1325.7,909.6 1327.2,906 1328.7,902.7 1330.2,899.8 1331.7,897.4 1333.2,895.6 1334.7,894.3 1336.2,893.3 1337.7,892.6 1339.2,892 1340.7,891.4 1342.2,890.6 1343.7,889.4 1345.2,887.9 1346.7,886.2 1348.2,884.6 1349.7,883.2 1351.2,882.3 1352.7,881.8 1354.2,881.8 1355.7,882.3 1357.2,883.4 1358.7,885.2 1360.2,887.7 1361.7,891 1363.2,895.1 1364.7,899.6 1366.2,904.1 1367.7,908.6 1369.2,912.9 1370.7,917.2 1372.2,921.4 1373.7,925.6 1375.2,929.8 1376.7,933.9 1378.2,937.9 1379.7,941.8 1381.2,945.8 1382.7,949.9 1384.2,954.1 1385.7,958.4 1387.2,962.9 1388.7,967.3 1390.2,971.6 1391.7,975.7 1393.2,979.5 1394.7,983.1 1396.2,986.6 1397.7,989.8 1399.2,992.8 1400.7,995.8 1402.2,998.5 1403.7,1001.2 1405.2,1003.8 1406.7,1006.4 1408.2,1008.9 1409.7,1011.3 1411.2,1013.7 1412.7,1015.9 1414.2,1018.1 1415.7,1020 1417.2,1021.9 1418.7,1023.6 1420.2,1025.2 1421.7,1026.7 1423.2,1028.1 1424.7,1029.3 1426.2,1030.5 1427.7,1031.5 1429.2,1032.4 1430.7,1033.2 1432.2,1033.9 1433.7,1034.6 1435.2,1035.2 1436.7,1035.7 1438.2,1036.1 1439.7,1036.6 1441.2,1036.9 1442.7,1037.3 1444.2,1037.6 1445.7,1037.8 1447.2,1038 1448.7,1038.2 1450.2,1038.4 1451.7,1038.6 1453.2,1038.7 1454.7,1038.9 1456.2,1039 1457.7,1039.1 1459.2,1039.1 1460.7,1039.2 1462.2,1039.2 1463.7,1039.2 1465.2,1039.3 1466.7,1039.3 1468.2,1039.3 1469.7,1039.3 1471.2,1039.3 1472.7,1039.3 1474.2,1039.4 L1474.2,1039.4Z"/>
<clipPath id="c3g"><use href="#f3g"/></clipPath>
<path id="l3r" d="M1222.2,1039.4 L1225.2,1039.4 L1226.7,1039.3 L1228.2,1039.3 L1229.7,1039.2 L1231.2,1039.2 L1232.7,1039.1 L1234.2,1039.1 L1235.7,1039 L1237.2,1039 L1238.7,1038.9 L1240.2,1038.9 L1241.7,1038.8 L1243.2,1038.8 L1244.7,1038.7 L1246.2,1038.6 L1247.7,1038.6 L1249.2,1038.5 L1250.7,1038.4 L1252.2,1038.4 L1253.7,1038.3 L1255.2,1038.2 L1256.7,1038.2 L1258.2,1038.1 L1259.7,1038 L1261.2,1038 L1262.7,1037.9 L1264.2,1037.8 L1265.7,1037.7 L1267.2,1037.6 L1268.7,1037.6 L1270.2,1037.5 L1271.7,1037.4 L1273.2,1037.3 L1274.7,1037.2 L1276.2,1037.1 L1277.7,1036.9 L1279.2,1036.8 L1280.7,1036.7 L1282.2,1036.6 L1283.7,1036.5 L1285.2,1036.3 L1286.7,1036.2 L1288.2,1036 L1289.7,1035.8 L1291.2,1035.5 L1292.7,1035.3 L1294.2,1034.9 L1295.7,1034.5 L1297.2,1034 L1298.7,1033.5 L1300.2,1033 L1301.7,1032.3 L1303.2,1031.7 L1304.7,1030.9 L1306.2,1030.2 L1307.7,1029.5 L1309.2,1028.9 L1310.7,1028.2 L1312.2,1027.6 L1313.7,1027 L1315.2,1026.5 L1316.7,1025.9 L1318.2,1025.3 L1319.7,1024.7 L1321.2,1024.1 L1322.7,1023.5 L1324.2,1022.9 L1325.7,1022.2 L1327.2,1021.4 L1328.7,1020.6 L1330.2,1019.7 L1331.7,1018.7 L1333.2,1017.8 L1334.7,1016.7 L1336.2,1015.6 L1337.7,1014.5 L1339.2,1013.2 L1340.7,1012 L1342.2,1010.7 L1343.7,1009.3 L1345.2,1007.9 L1346.7,1006.4 L1348.2,1004.9 L1349.7,1003.3 L1351.2,1001.7 L1352.7,1000 L1354.2,998.3 L1355.7,996.5 L1357.2,994.7 L1358.7,992.8 L1360.2,990.9 L1361.7,989 L1363.2,987.1 L1364.7,985.2 L1366.2,983.2 L1367.7,981.2 L1369.2,979.1 L1370.7,976.9 L1372.2,974.7 L1373.7,972.4 L1375.2,970.1 L1376.7,967.8 L1378.2,965.4 L1379.7,963 L1381.2,960.6 L1382.7,958.2 L1384.2,955.8 L1385.7,953.5 L1387.2,951.2 L1388.7,948.9 L1390.2,946.7 L1391.7,944.4 L1393.2,942.2 L1394.7,939.9 L1396.2,937.6 L1397.7,935.4 L1399.2,933.2 L1400.7,931 L1402.2,928.8 L1403.7,926.7 L1405.2,924.8 L1406.7,923.2 L1408.2,921.7 L1409.7,920.5 L1411.2,919.5 L1412.7,918.6 L1414.2,918 L1415.7,917.5 L1417.2,917.3 L1418.7,917.4 L1420.2,917.7 L1421.7,918.3 L1423.2,919 L1424.7,919.9 L1426.2,921 L1427.7,922.5 L1429.2,924.2 L1430.7,925.9 L1432.2,927.6 L1433.7,929.4 L1435.2,931.3 L1436.7,933.3 L1438.2,935.4 L1439.7,937.7 L1441.2,940.1 L1442.7,942.6 L1444.2,945.1 L1445.7,947.7 L1447.2,950.4 L1448.7,953 L1450.2,955.6 L1451.7,958.1 L1453.2,960.5 L1454.7,962.8 L1456.2,965 L1457.7,967.2 L1459.2,969.3 L1460.7,971.4 L1462.2,973.4 L1463.7,975.5 L1465.2,977.6 L1466.7,979.8 L1468.2,982 L1469.7,984.3 L1471.2,986.5 L1472.7,988.8 L1474.2,991.1 L1475.7,993.4 L1477.2,995.6 L1478.7,997.8 L1480.2,1000 L1481.7,1002.1 L1483.2,1004.2 L1484.7,1006.2 L1486.2,1008 L1487.7,1009.7 L1489.2,1011.2 L1490.7,1012.7 L1492.2,1014.1 L1493.7,1015.4 L1495.2,1016.7 L1496.7,1018 L1498.2,1019.2 L1499.7,1020.3 L1501.2,1021.4 L1502.7,1022.4 L1504.2,1023.3 L1505.7,1024.2 L1507.2,1025.1 L1508.7,1025.9 L1510.2,1026.8 L1511.7,1027.8 L1513.2,1028.7 L1514.7,1029.6 L1516.2,1030.5 L1517.7,1031.3 L1519.2,1032.1 L1520.7,1032.8 L1522.2,1033.5 L1523.7,1034.1 L1525.2,1034.6 L1526.7,1035.1 L1528.2,1035.5 L1529.7,1035.8 L1531.2,1036.1 L1532.7,1036.3 L1534.2,1036.5 L1535.7,1036.7 L1537.2,1036.9 L1538.7,1037.1 L1540.2,1037.3 L1541.7,1037.5 L1543.2,1037.6 L1544.7,1037.8 L1546.2,1037.9 L1547.7,1038.1 L1549.2,1038.2 L1550.7,1038.3 L1552.2,1038.4 L1553.7,1038.5 L1555.2,1038.7 L1556.7,1038.8 L1558.2,1038.9 L1559.7,1039 L1561.2,1039.1 L1562.7,1039.2 L1564.2,1039.3 L1565.7,1039.3 L1567.2,1039.4 L1570.2,1039.4"/>
<path id="l3b" d="M137.7,1039.4 L140.7,1039.4 L142.2,1039.3 L143.7,1039.3 L145.2,1039.3 L146.7,1039.2 L148.2,1039.2 L149.7,1039.1 L151.2,1039.1 L152.7,1039 L154.2,1038.9 L155.7,1038.9 L157.2,1038.8 L158.7,1038.7 L160.2,1038.7 L161.7,1038.6 L163.2,1038.5 L164.7,1038.5 L166.2,1038.4 L167.7,1038.3 L169.2,1038.2 L170.7,1038.2 L172.2,1038.1 L173.7,1038 L175.2,1037.9 L176.7,1037.9 L178.2,1037.8 L179.7,1037.7 L181.2,1037.6 L182.7,1037.5 L184.2,1037.4 L185.7,1037.3 L187.2,1037.2 L188.7,1037.1 L190.2,1037 L191.7,1036.9 L193.2,1036.7 L194.7,1036.6 L196.2,1036.5 L197.7,1036.3 L199.2,1036.2 L200.7,1036 L202.2,1035.8 L203.7,1035.6 L205.2,1035.4 L206.7,1035.2 L208.2,1034.9 L209.7,1034.5 L211.2,1034 L212.7,1033.5 L214.2,1032.9 L215.7,1032.2 L217.2,1031.5 L218.7,1030.8 L220.2,1030.1 L221.7,1029.3 L223.2,1028.4 L224.7,1027.4 L226.2,1026.3 L227.7,1025.1 L229.2,1023.6 L230.7,1021.9 L232.2,1020.1 L233.7,1018.3 L235.2,1016.5 L236.7,1014.6 L238.2,1012.8 L239.7,1010.8 L241.2,1008.9 L242.7,1006.9 L244.2,1004.9 L245.7,1002.8 L247.2,1000.6 L248.7,998.1 L250.2,995.5 L251.7,992.7 L253.2,989.7 L254.7,986.5 L256.2,983.2 L257.7,979.7 L259.2,976.2 L260.7,972.6 L262.2,968.9 L263.7,965 L265.2,961.1 L266.7,957 L268.2,952.8 L269.7,948.5 L271.2,944.2 L272.7,940.2 L274.2,936.6 L275.7,933.3 L277.2,930.4 L278.7,927.8 L280.2,925.3 L281.7,923.1 L283.2,920.9 L284.7,918.7 L286.2,916.5 L287.7,914.2 L289.2,911.6 L290.7,908.9 L292.2,905.9 L293.7,902.7 L295.2,899.5 L296.7,896.2 L298.2,893 L299.7,890.1 L301.2,887.4 L302.7,885.3 L304.2,883.7 L305.7,882.7 L307.2,882.3 L308.7,882.5 L310.2,883.5 L311.7,885.1 L313.2,887.4 L314.7,890.2 L316.2,893.4 L317.7,896.6 L319.2,899.8 L320.7,902.9 L322.2,905.7 L323.7,908.4 L325.2,911.2 L326.7,914.1 L328.2,917.1 L329.7,920.2 L331.2,923.3 L332.7,926.6 L334.2,929.8 L335.7,933.2 L337.2,936.6 L338.7,940.1 L340.2,943.8 L341.7,947.8 L343.2,951.9 L344.7,956.3 L346.2,960.7 L347.7,965.2 L349.2,969.4 L350.7,973.4 L352.2,977.2 L353.7,980.9 L355.2,984.5 L356.7,988 L358.2,991.5 L359.7,994.8 L361.2,997.9 L362.7,1000.9 L364.2,1003.8 L365.7,1006.5 L367.2,1009 L368.7,1011.5 L370.2,1013.8 L371.7,1015.9 L373.2,1018 L374.7,1020 L376.2,1021.8 L377.7,1023.5 L379.2,1025.1 L380.7,1026.5 L382.2,1027.9 L383.7,1029.1 L385.2,1030.1 L386.7,1030.9 L388.2,1031.7 L389.7,1032.4 L391.2,1033 L392.7,1033.5 L394.2,1034 L395.7,1034.5 L397.2,1035 L398.7,1035.4 L400.2,1035.8 L401.7,1036.2 L403.2,1036.5 L404.7,1036.7 L406.2,1036.9 L407.7,1037.1 L409.2,1037.3 L410.7,1037.5 L412.2,1037.6 L413.7,1037.8 L415.2,1037.9 L416.7,1038 L418.2,1038.2 L419.7,1038.3 L421.2,1038.3 L422.7,1038.4 L424.2,1038.5 L425.7,1038.6 L427.2,1038.7 L428.7,1038.7 L430.2,1038.8 L431.7,1038.9 L433.2,1038.9 L434.7,1039 L436.2,1039 L437.7,1039.1 L439.2,1039.1 L440.7,1039.2 L442.2,1039.2 L443.7,1039.2 L445.2,1039.2 L446.7,1039.2 L448.2,1039.3 L449.7,1039.3 L451.2,1039.3 L452.7,1039.3 L454.2,1039.3 L455.7,1039.3 L457.2,1039.4 L460.2,1039.4 M1217.7,1039.4 L1477.2,1039.4"/>
<path id="l3g" d="M130.2,1039.4 L1220.7,1039.4 L1222.2,1039.3 L1223.7,1039.3 L1225.2,1039.3 L1226.7,1039.3 L1228.2,1039.3 L1229.7,1039.3 L1231.2,1039.2 L1232.7,1039.2 L1234.2,1039.2 L1235.7,1039.2 L1237.2,1039.1 L1238.7,1038.9 L1240.2,1038.8 L1241.7,1038.6 L1243.2,1038.4 L1244.7,1038.2 L1246.2,1037.9 L1247.7,1037.7 L1249.2,1037.4 L1250.7,1037.1 L1252.2,1036.8 L1253.7,1036.6 L1255.2,1036.2 L1256.7,1035.9 L1258.2,1035.5 L1259.7,1035.1 L1261.2,1034.7 L1262.7,1034.2 L1264.2,1033.6 L1265.7,1033 L1267.2,1032.2 L1268.7,1031.4 L1270.2,1030.5 L1271.7,1029.5 L1273.2,1028.3 L1274.7,1027 L1276.2,1025.5 L1277.7,1023.9 L1279.2,1022.1 L1280.7,1020.3 L1282.2,1018.3 L1283.7,1016.2 L1285.2,1013.9 L1286.7,1011.6 L1288.2,1009.2 L1289.7,1006.6 L1291.2,1003.8 L1292.7,1001 L1294.2,997.9 L1295.7,994.7 L1297.2,991.4 L1298.7,987.9 L1300.2,984.3 L1301.7,980.4 L1303.2,976.3 L1304.7,971.8 L1306.2,967 L1307.7,962.1 L1309.2,957.3 L1310.7,952.5 L1312.2,947.7 L1313.7,942.8 L1315.2,938.1 L1316.7,933.6 L1318.2,929.3 L1319.7,925.2 L1321.2,921.2 L1322.7,917.2 L1324.2,913.4 L1325.7,909.6 L1327.2,906 L1328.7,902.7 L1330.2,899.8 L1331.7,897.4 L1333.2,895.6 L1334.7,894.3 L1336.2,893.3 L1337.7,892.6 L1339.2,892 L1340.7,891.4 L1342.2,890.6 L1343.7,889.4 L1345.2,887.9 L1346.7,886.2 L1348.2,884.6 L1349.7,883.2 L1351.2,882.3 L1352.7,881.8 L1354.2,881.8 L1355.7,882.3 L1357.2,883.4 L1358.7,885.2 L1360.2,887.7 L1361.7,891 L1363.2,895.1 L1364.7,899.6 L1366.2,904.1 L1367.7,908.6 L1369.2,912.9 L1370.7,917.2 L1372.2,921.4 L1373.7,925.6 L1375.2,929.8 L1376.7,933.9 L1378.2,937.9 L1379.7,941.8 L1381.2,945.8 L1382.7,949.9 L1384.2,954.1 L1385.7,958.4 L1387.2,962.9 L1388.7,967.3 L1390.2,971.6 L1391.7,975.7 L1393.2,979.5 L1394.7,983.1 L1396.2,986.6 L1397.7,989.8 L1399.2,992.8 L1400.7,995.8 L1402.2,998.5 L1403.7,1001.2 L1405.2,1003.8 L1406.7,1006.4 L1408.2,1008.9 L1409.7,1011.3 L1411.2,1013.7 L1412.7,1015.9 L1414.2,1018.1 L1415.7,1020 L1417.2,1021.9 L1418.7,1023.6 L1420.2,1025.2 L1421.7,1026.7 L1423.2,1028.1 L1424.7,1029.3 L1426.2,1030.5 L1427.7,1031.5 L1429.2,1032.4 L1430.7,1033.2 L1432.2,1033.9 L1433.7,1034.6 L1435.2,1035.2 L1436.7,1035.7 L1438.2,1036.1 L1439.7,1036.6 L1441.2,1036.9 L1442.7,1037.3 L1444.2,1037.6 L1445.7,1037.8 L1447.2,1038 L1448.7,1038.2 L1450.2,1038.4 L1451.7,1038.6 L1453.2,1038.7 L1454.7,1038.9 L1456.2,1039 L1457.7,1039.1 L1459.2,1039.1 L1460.7,1039.2 L1462.2,1039.2 L1463.7,1039.2 L1465.2,1039.3 L1466.7,1039.3 L1468.2,1039.3 L1469.7,1039.3 L1471.2,1039.3 L1472.7,1039.3 L1474.2,1039.4 L1667.2,1039.4"/>
</defs>
<use href="#f3r" fill="#FEDDE4"/>
<use href="#f3b" fill="#E0EBFE"/>
<use href="#f3g" fill="#E9FEE0"/>
<use href="#f3b" fill="#E2D0EA" clip-path="url(#c3r)"/>
<use href="#f3g" fill="#E6EECA" clip-path="url(#c3r)"/>
<use href="#f3g" fill="#D0F0E2" clip-path="url(#c3b)"/>
<g clip-path="url(#c3r)"><use href="#f3g" fill="#CEE8D4" clip-path="url(#c3b)"/></g>
<use class="l" href="#l3r" stroke="#FA5B7E"/>
<use class="l" href="#l3r" stroke="#DE6896" clip-path="url(#c3b)"/>
<use class="l" href="#l3r" stroke="#E88274" clip-path="url(#c3g)"/>
<g clip-path="url(#c3b)"><use class="l" href="#l3r" stroke="#D0888C" clip-path="url(#c3g)"/></g>
<use class="l" href="#l3b" stroke="#68A0F8"/>
<use class="l" href="#l3b" stroke="#6EBAF8" clip-path="url(#c3g)"/>
<use class="lg" href="#l3g" stroke="#96FC65"/>
<rect class="k" x="751.15" y="858.9" width="30.75" height="31.2" fill="#FEDDE4" stroke="#FA5B7E"/>
<text y="886.3"><tspan x="801">Zn</tspan><tspan x="840.2" y="875.3" font-size="19.5" stroke-width="0.5">2</tspan><tspan x="851.3" y="877.9" font-size="20" stroke-width="0.5">+</tspan><tspan x="862.3" y="889.7" font-size="34">−</tspan><tspan x="881.8" y="886.3">bound, mode I</tspan></text>
<rect class="k" x="751.15" y="895.7" width="30.75" height="31.2" fill="#E0EBFE" stroke="#68A0F8"/>
<text y="923.05"><tspan x="801">Zn</tspan><tspan x="840.2" y="912.05" font-size="19.5" stroke-width="0.5">2</tspan><tspan x="851.3" y="914.65" font-size="20" stroke-width="0.5">+</tspan><tspan x="862.3" y="926.45" font-size="34">−</tspan><tspan x="881.8" y="923.05">bound, mode II</tspan></text>
<rect class="k" x="751.15" y="932.5" width="30.75" height="31.2" fill="#E9FEE0" stroke="#96FC65"/>
<text y="959.8"><tspan x="801">Zn</tspan><tspan x="840.2" y="948.8" font-size="19.5" stroke-width="0.5">2</tspan><tspan x="851.3" y="951.4" font-size="20" stroke-width="0.5">+</tspan><tspan x="862.3" y="963.2" font-size="34">−</tspan><tspan x="881.8" y="959.8">free</tspan></text>
<line class="ax" x1="53.449999999999996" y1="846.8" x2="53.449999999999996" y2="1048.6"/>
</g>
<line class="ax" x1="53.449999999999996" y1="1048.6" x2="1744.0" y2="1048.6"/>
<line class="tk" x1="276.4" y1="1048.6" x2="276.4" y2="1057.2"/>
<text transform="translate(276.4,1089.6) scale(1,1.03)" text-anchor="middle">0</text>
<line class="tk" x1="666" y1="1048.6" x2="666" y2="1057.2"/>
<text transform="translate(666,1089.6) scale(1,1.03)" text-anchor="middle">5</text>
<line class="tk" x1="1055.6" y1="1048.6" x2="1055.6" y2="1057.2"/>
<text transform="translate(1055.6,1089.6) scale(1,1.03)" text-anchor="middle">10</text>
<line class="tk" x1="1445.2" y1="1048.6" x2="1445.2" y2="1057.2"/>
<text transform="translate(1445.2,1089.6) scale(1,1.03)" text-anchor="middle">15</text>
<text y="1132.3" font-size="33.2"><tspan x="681.9">Angle between </tspan><tspan class="thin" x="909" font-size="30.6">β </tspan><tspan class="thin" x="932.8" y="1135.8" font-size="31.8">− </tspan><tspan x="958.2" y="1132.3">strands </tspan><tspan class="thin" x="1075.3" font-size="40.3">(</tspan><tspan class="thin" x="1087.5" font-size="33.7">°</tspan><tspan class="thin" x="1102.8" font-size="40.3">)</tspan></text>
<text transform="translate(29.9,604.4) rotate(-90)">Density</text>
</svg>
</body>
</html>
